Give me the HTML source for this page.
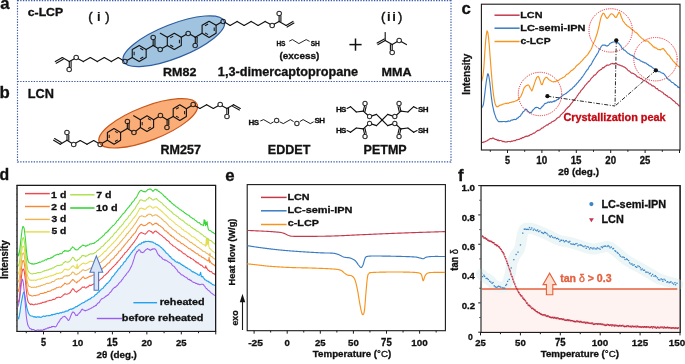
<!DOCTYPE html>
<html><head><meta charset="utf-8"><style>
html,body{margin:0;padding:0;background:#fff;}
svg{display:block;font-family:"Liberation Sans", sans-serif;will-change:transform;}
</style></head><body>
<svg width="685" height="364" viewBox="0 0 685 364">
<rect width="685" height="364" fill="#fff"/>
<line x1="17.5" y1="0.6" x2="451" y2="0.6" stroke="#3b5ca8" stroke-width="1.15" stroke-dasharray="1.35 1.35"/>
<line x1="17.5" y1="81.5" x2="451" y2="81.5" stroke="#3b5ca8" stroke-width="1.15" stroke-dasharray="1.35 1.35"/>
<line x1="17.5" y1="161.9" x2="451" y2="161.9" stroke="#3b5ca8" stroke-width="1.15" stroke-dasharray="1.35 1.35"/>
<line x1="17.5" y1="0" x2="17.5" y2="162.5" stroke="#3b5ca8" stroke-width="1.15" stroke-dasharray="1.35 1.35"/>
<line x1="451" y1="0" x2="451" y2="162.5" stroke="#3b5ca8" stroke-width="1.15" stroke-dasharray="1.35 1.35"/>
<text x="0.30" y="8.60" font-size="16.8" fill="#111" stroke="#111" stroke-width="0.3" font-weight="bold" text-anchor="start" >a</text>
<text x="-0.50" y="97.60" font-size="16.8" fill="#111" stroke="#111" stroke-width="0.3" font-weight="bold" text-anchor="start" >b</text>
<text x="461.40" y="13.50" font-size="16.8" fill="#111" stroke="#111" stroke-width="0.3" font-weight="bold" text-anchor="start" >c</text>
<text x="-0.50" y="180.10" font-size="15.8" fill="#111" stroke="#111" stroke-width="0.3" font-weight="bold" text-anchor="start" >d</text>
<text x="225.20" y="180.80" font-size="16.8" fill="#111" stroke="#111" stroke-width="0.3" font-weight="bold" text-anchor="start" >e</text>
<text x="457.90" y="180.60" font-size="16.8" fill="#111" stroke="#111" stroke-width="0.3" font-weight="bold" text-anchor="start" >f</text>
<ellipse cx="173.8" cy="41.2" rx="54.2" ry="16.9" transform="rotate(-21.6 173.8 41.2)" fill="#a0c3df" stroke="#2d5d9f" stroke-width="1.2"/>
<ellipse cx="148.2" cy="123.3" rx="52.5" ry="17.0" transform="rotate(-21.1 148.2 123.3)" fill="#fbad77" stroke="#c9571d" stroke-width="1.2"/>
<line x1="55.30" y1="61.60" x2="62.30" y2="57.60" stroke="#111" stroke-width="1.12" stroke-linecap="round"/>
<line x1="56.24" y1="63.25" x2="63.24" y2="59.25" stroke="#111" stroke-width="1.12" stroke-linecap="round"/>
<line x1="62.30" y1="57.60" x2="69.30" y2="61.60" stroke="#111" stroke-width="1.12" stroke-linecap="round"/>
<line x1="69.30" y1="61.60" x2="69.30" y2="67.10" stroke="#111" stroke-width="1.12" stroke-linecap="round"/>
<line x1="71.10" y1="61.60" x2="71.10" y2="67.10" stroke="#111" stroke-width="1.12" stroke-linecap="round"/>
<line x1="69.30" y1="61.60" x2="74.04" y2="58.89" stroke="#111" stroke-width="1.12" stroke-linecap="round"/>
<line x1="78.56" y1="58.89" x2="83.30" y2="61.60" stroke="#111" stroke-width="1.12" stroke-linecap="round"/>
<line x1="83.30" y1="61.60" x2="90.30" y2="57.60" stroke="#111" stroke-width="1.12" stroke-linecap="round"/>
<line x1="90.30" y1="57.60" x2="97.30" y2="61.60" stroke="#111" stroke-width="1.12" stroke-linecap="round"/>
<line x1="97.30" y1="61.60" x2="104.30" y2="57.60" stroke="#111" stroke-width="1.12" stroke-linecap="round"/>
<line x1="104.30" y1="57.60" x2="111.30" y2="61.60" stroke="#111" stroke-width="1.12" stroke-linecap="round"/>
<line x1="111.30" y1="61.60" x2="118.30" y2="57.60" stroke="#111" stroke-width="1.12" stroke-linecap="round"/>
<line x1="118.30" y1="57.60" x2="122.77" y2="60.27" stroke="#111" stroke-width="1.12" stroke-linecap="round"/>
<text x="69.30" y="72.44" font-size="7.6" fill="#111" stroke="#111" stroke-width="0.28" text-anchor="middle">O</text>
<text x="76.30" y="60.34" font-size="7.6" fill="#111" stroke="#111" stroke-width="0.28" text-anchor="middle">O</text>
<text x="125.00" y="64.34" font-size="7.6" fill="#111" stroke="#111" stroke-width="0.28" text-anchor="middle">O</text>
<path d="M139.20,45.40 L146.15,49.45 L146.15,57.55 L139.20,61.60 L132.25,57.55 L132.25,49.45 Z" fill="none" stroke="#111" stroke-width="1.12" stroke-linejoin="round"/>
<line x1="140.24" y1="48.19" x2="143.24" y2="49.94" stroke="#111" stroke-width="1.0080000000000002" />
<line x1="143.24" y1="57.06" x2="140.24" y2="58.81" stroke="#111" stroke-width="1.0080000000000002" />
<line x1="134.13" y1="55.26" x2="134.13" y2="51.74" stroke="#111" stroke-width="1.0080000000000002" />
<line x1="127.27" y1="60.33" x2="132.25" y2="57.55" stroke="#111" stroke-width="1.12" stroke-linecap="round"/>
<line x1="146.15" y1="49.45" x2="153.15" y2="45.40" stroke="#111" stroke-width="1.12" stroke-linecap="round"/>
<line x1="153.15" y1="45.40" x2="153.15" y2="39.90" stroke="#111" stroke-width="1.12" stroke-linecap="round"/>
<line x1="154.95" y1="45.40" x2="154.95" y2="39.90" stroke="#111" stroke-width="1.12" stroke-linecap="round"/>
<line x1="153.15" y1="45.40" x2="157.90" y2="48.15" stroke="#111" stroke-width="1.12" stroke-linecap="round"/>
<text x="153.15" y="40.04" font-size="7.6" fill="#111" stroke="#111" stroke-width="0.28" text-anchor="middle">O</text>
<text x="160.15" y="52.19" font-size="7.6" fill="#111" stroke="#111" stroke-width="0.28" text-anchor="middle">O</text>
<path d="M174.30,33.30 L181.30,37.35 L181.30,45.45 L174.30,49.50 L167.30,45.45 L167.30,37.35 Z" fill="none" stroke="#111" stroke-width="1.12" stroke-linejoin="round"/>
<line x1="170.23" y1="37.84" x2="173.26" y2="36.09" stroke="#111" stroke-width="1.0080000000000002" />
<line x1="179.41" y1="39.64" x2="179.41" y2="43.16" stroke="#111" stroke-width="1.0080000000000002" />
<line x1="173.26" y1="46.71" x2="170.23" y2="44.96" stroke="#111" stroke-width="1.0080000000000002" />
<line x1="162.42" y1="48.18" x2="167.30" y2="45.45" stroke="#111" stroke-width="1.12" stroke-linecap="round"/>
<line x1="167.30" y1="37.35" x2="160.30" y2="33.30" stroke="#111" stroke-width="1.12" stroke-linecap="round"/>
<line x1="181.30" y1="37.35" x2="186.05" y2="34.60" stroke="#111" stroke-width="1.12" stroke-linecap="round"/>
<line x1="190.55" y1="34.60" x2="195.30" y2="37.35" stroke="#111" stroke-width="1.12" stroke-linecap="round"/>
<line x1="195.30" y1="37.35" x2="195.30" y2="42.85" stroke="#111" stroke-width="1.12" stroke-linecap="round"/>
<line x1="197.10" y1="37.35" x2="197.10" y2="42.85" stroke="#111" stroke-width="1.12" stroke-linecap="round"/>
<text x="188.30" y="36.04" font-size="7.6" fill="#111" stroke="#111" stroke-width="0.28" text-anchor="middle">O</text>
<text x="195.30" y="48.19" font-size="7.6" fill="#111" stroke="#111" stroke-width="0.28" text-anchor="middle">O</text>
<path d="M209.10,21.20 L216.10,25.25 L216.10,33.35 L209.10,37.40 L202.10,33.35 L202.10,25.25 Z" fill="none" stroke="#111" stroke-width="1.12" stroke-linejoin="round"/>
<line x1="205.03" y1="25.74" x2="208.06" y2="23.99" stroke="#111" stroke-width="1.0080000000000002" />
<line x1="214.21" y1="27.54" x2="214.21" y2="31.06" stroke="#111" stroke-width="1.0080000000000002" />
<line x1="208.06" y1="34.61" x2="205.03" y2="32.86" stroke="#111" stroke-width="1.0080000000000002" />
<line x1="195.30" y1="37.35" x2="202.10" y2="33.35" stroke="#111" stroke-width="1.12" stroke-linecap="round"/>
<line x1="216.10" y1="25.25" x2="220.85" y2="22.50" stroke="#111" stroke-width="1.12" stroke-linecap="round"/>
<text x="223.10" y="23.94" font-size="7.6" fill="#111" stroke="#111" stroke-width="0.28" text-anchor="middle">O</text>
<line x1="225.33" y1="22.54" x2="230.10" y2="25.40" stroke="#111" stroke-width="1.12" stroke-linecap="round"/>
<line x1="230.10" y1="25.40" x2="237.10" y2="21.40" stroke="#111" stroke-width="1.12" stroke-linecap="round"/>
<line x1="237.10" y1="21.40" x2="244.10" y2="25.40" stroke="#111" stroke-width="1.12" stroke-linecap="round"/>
<line x1="244.10" y1="25.40" x2="251.10" y2="21.40" stroke="#111" stroke-width="1.12" stroke-linecap="round"/>
<line x1="251.10" y1="21.40" x2="258.10" y2="25.40" stroke="#111" stroke-width="1.12" stroke-linecap="round"/>
<line x1="258.10" y1="25.40" x2="265.10" y2="21.40" stroke="#111" stroke-width="1.12" stroke-linecap="round"/>
<line x1="265.10" y1="21.40" x2="269.84" y2="24.11" stroke="#111" stroke-width="1.12" stroke-linecap="round"/>
<line x1="274.36" y1="24.11" x2="279.10" y2="21.40" stroke="#111" stroke-width="1.12" stroke-linecap="round"/>
<line x1="279.10" y1="21.40" x2="279.10" y2="15.90" stroke="#111" stroke-width="1.12" stroke-linecap="round"/>
<line x1="280.90" y1="21.40" x2="280.90" y2="15.90" stroke="#111" stroke-width="1.12" stroke-linecap="round"/>
<line x1="279.10" y1="21.40" x2="286.10" y2="25.40" stroke="#111" stroke-width="1.12" stroke-linecap="round"/>
<line x1="286.10" y1="25.40" x2="293.00" y2="21.40" stroke="#111" stroke-width="1.12" stroke-linecap="round"/>
<line x1="287.05" y1="27.04" x2="293.95" y2="23.04" stroke="#111" stroke-width="1.12" stroke-linecap="round"/>
<text x="272.10" y="28.14" font-size="7.6" fill="#111" stroke="#111" stroke-width="0.28" text-anchor="middle">O</text>
<text x="279.10" y="16.04" font-size="7.6" fill="#111" stroke="#111" stroke-width="0.28" text-anchor="middle">O</text>
<text x="276.60" y="46.30" font-size="6.6" fill="#111" stroke="#111" stroke-width="0.3" font-weight="bold" text-anchor="start" letter-spacing="-0.3">HS</text>
<polyline points="289.20,41.20 292.40,39.60 298.90,43.60 306.20,39.60 309.60,41.40" fill="none" stroke="#111" stroke-width="0.9" stroke-linejoin="round" />
<text x="310.80" y="46.30" font-size="6.6" fill="#111" stroke="#111" stroke-width="0.3" font-weight="bold" text-anchor="start" letter-spacing="-0.3">SH</text>
<text x="279.45" y="58.65" font-size="9.24" fill="#111" stroke="#111" stroke-width="0.3" font-weight="bold" textLength="39.98" lengthAdjust="spacingAndGlyphs" >(excess)</text>
<text x="217.89" y="76.45" font-size="12.28" fill="#111" stroke="#111" stroke-width="0.3" font-weight="bold" textLength="140.15" lengthAdjust="spacingAndGlyphs" >1,3-dimercaptopropane</text>
<text x="163.14" y="76.25" font-size="11.14" fill="#111" stroke="#111" stroke-width="0.3" font-weight="bold" textLength="33.24" lengthAdjust="spacingAndGlyphs" >RM82</text>
<line x1="349.40" y1="44.60" x2="361.60" y2="44.60" stroke="#111" stroke-width="1.5" />
<line x1="355.50" y1="38.50" x2="355.50" y2="50.70" stroke="#111" stroke-width="1.5" />
<line x1="378.00" y1="44.60" x2="385.20" y2="40.50" stroke="#111" stroke-width="1.12" stroke-linecap="round"/>
<line x1="377.11" y1="43.04" x2="384.31" y2="38.94" stroke="#111" stroke-width="1.12" stroke-linecap="round"/>
<line x1="385.20" y1="40.50" x2="385.20" y2="32.60" stroke="#111" stroke-width="1.12" stroke-linecap="round"/>
<line x1="385.20" y1="40.50" x2="392.20" y2="44.60" stroke="#111" stroke-width="1.12" stroke-linecap="round"/>
<line x1="392.20" y1="44.60" x2="392.20" y2="50.00" stroke="#111" stroke-width="1.12" stroke-linecap="round"/>
<line x1="390.40" y1="44.60" x2="390.40" y2="50.00" stroke="#111" stroke-width="1.12" stroke-linecap="round"/>
<line x1="392.20" y1="44.60" x2="396.96" y2="41.81" stroke="#111" stroke-width="1.12" stroke-linecap="round"/>
<line x1="401.46" y1="41.79" x2="406.40" y2="44.60" stroke="#111" stroke-width="1.12" stroke-linecap="round"/>
<text x="392.20" y="55.34" font-size="7.6" fill="#111" stroke="#111" stroke-width="0.28" text-anchor="middle">O</text>
<text x="399.20" y="43.24" font-size="7.6" fill="#111" stroke="#111" stroke-width="0.28" text-anchor="middle">O</text>
<text x="381.43" y="76.25" font-size="11.74" fill="#111" stroke="#111" stroke-width="0.3" font-weight="bold" textLength="30.07" lengthAdjust="spacingAndGlyphs" >MMA</text>
<text x="27.76" y="16.35" font-size="10.57" fill="#111" stroke="#111" stroke-width="0.3" font-weight="bold" textLength="35.41" lengthAdjust="spacingAndGlyphs" >c-LCP</text>
<text x="90.40" y="21.30" font-size="13.0" fill="#111" stroke="#111" stroke-width="0.45" font-weight="normal" text-anchor="middle" >(</text>
<text x="98.70" y="21.30" font-size="13.0" fill="#111" stroke="#111" stroke-width="0.1" font-weight="bold" text-anchor="middle" >i</text>
<text x="107.30" y="21.30" font-size="13.0" fill="#111" stroke="#111" stroke-width="0.45" font-weight="normal" text-anchor="middle" >)</text>
<text x="383.10" y="21.40" font-size="13.0" fill="#111" stroke="#111" stroke-width="0.45" font-weight="normal" text-anchor="middle" >(</text>
<text x="388.90" y="21.40" font-size="13.0" fill="#111" stroke="#111" stroke-width="0.1" font-weight="bold" text-anchor="middle" >i</text>
<text x="394.00" y="21.40" font-size="13.0" fill="#111" stroke="#111" stroke-width="0.1" font-weight="bold" text-anchor="middle" >i</text>
<text x="400.10" y="21.40" font-size="13.0" fill="#111" stroke="#111" stroke-width="0.45" font-weight="normal" text-anchor="middle" >)</text>
<text x="27.82" y="97.85" font-size="12.00" fill="#111" stroke="#111" stroke-width="0.3" font-weight="bold" textLength="26.16" lengthAdjust="spacingAndGlyphs" >LCN</text>
<line x1="53.60" y1="140.20" x2="60.30" y2="144.20" stroke="#111" stroke-width="1.12" stroke-linecap="round"/>
<line x1="54.57" y1="138.57" x2="61.27" y2="142.57" stroke="#111" stroke-width="1.12" stroke-linecap="round"/>
<line x1="60.30" y1="144.20" x2="67.00" y2="140.30" stroke="#111" stroke-width="1.12" stroke-linecap="round"/>
<line x1="67.00" y1="140.30" x2="67.00" y2="135.00" stroke="#111" stroke-width="1.12" stroke-linecap="round"/>
<line x1="68.80" y1="140.30" x2="68.80" y2="135.00" stroke="#111" stroke-width="1.12" stroke-linecap="round"/>
<line x1="67.00" y1="140.30" x2="71.38" y2="142.95" stroke="#111" stroke-width="1.12" stroke-linecap="round"/>
<text x="67.00" y="135.14" font-size="7.6" fill="#111" stroke="#111" stroke-width="0.28" text-anchor="middle">O</text>
<text x="73.60" y="147.04" font-size="7.6" fill="#111" stroke="#111" stroke-width="0.28" text-anchor="middle">O</text>
<line x1="75.85" y1="143.00" x2="80.20" y2="140.50" stroke="#111" stroke-width="1.12" stroke-linecap="round"/>
<line x1="80.20" y1="140.50" x2="87.00" y2="144.30" stroke="#111" stroke-width="1.12" stroke-linecap="round"/>
<line x1="87.00" y1="144.30" x2="93.70" y2="140.50" stroke="#111" stroke-width="1.12" stroke-linecap="round"/>
<line x1="93.70" y1="140.50" x2="98.05" y2="143.00" stroke="#111" stroke-width="1.12" stroke-linecap="round"/>
<text x="100.30" y="147.04" font-size="7.6" fill="#111" stroke="#111" stroke-width="0.28" text-anchor="middle">O</text>
<path d="M114.00,128.60 L120.60,132.50 L120.60,140.30 L114.00,144.20 L107.40,140.30 L107.40,132.50 Z" fill="none" stroke="#111" stroke-width="1.12" stroke-linejoin="round"/>
<line x1="115.03" y1="131.32" x2="117.78" y2="132.94" stroke="#111" stroke-width="1.0080000000000002" />
<line x1="117.78" y1="139.86" x2="115.03" y2="141.48" stroke="#111" stroke-width="1.0080000000000002" />
<line x1="109.18" y1="138.05" x2="109.18" y2="134.75" stroke="#111" stroke-width="1.0080000000000002" />
<line x1="102.57" y1="143.02" x2="107.40" y2="140.30" stroke="#111" stroke-width="1.12" stroke-linecap="round"/>
<line x1="120.60" y1="132.50" x2="127.34" y2="128.50" stroke="#111" stroke-width="1.12" stroke-linecap="round"/>
<line x1="127.34" y1="128.50" x2="127.34" y2="123.40" stroke="#111" stroke-width="1.12" stroke-linecap="round"/>
<line x1="129.04" y1="128.50" x2="129.04" y2="123.40" stroke="#111" stroke-width="1.12" stroke-linecap="round"/>
<line x1="127.34" y1="128.50" x2="131.84" y2="131.17" stroke="#111" stroke-width="1.12" stroke-linecap="round"/>
<text x="127.34" y="123.54" font-size="7.6" fill="#111" stroke="#111" stroke-width="0.28" text-anchor="middle">O</text>
<text x="134.08" y="135.24" font-size="7.6" fill="#111" stroke="#111" stroke-width="0.28" text-anchor="middle">O</text>
<path d="M147.00,115.80 L153.60,119.70 L153.60,127.50 L147.00,131.40 L140.40,127.50 L140.40,119.70 Z" fill="none" stroke="#111" stroke-width="1.12" stroke-linejoin="round"/>
<line x1="148.03" y1="118.52" x2="150.78" y2="120.14" stroke="#111" stroke-width="1.0080000000000002" />
<line x1="150.78" y1="127.06" x2="148.03" y2="128.68" stroke="#111" stroke-width="1.0080000000000002" />
<line x1="142.18" y1="125.25" x2="142.18" y2="121.95" stroke="#111" stroke-width="1.0080000000000002" />
<line x1="136.12" y1="130.89" x2="140.40" y2="127.50" stroke="#111" stroke-width="1.12" stroke-linecap="round"/>
<line x1="140.40" y1="119.70" x2="133.66" y2="115.70" stroke="#111" stroke-width="1.12" stroke-linecap="round"/>
<line x1="153.60" y1="119.70" x2="158.10" y2="117.03" stroke="#111" stroke-width="1.12" stroke-linecap="round"/>
<line x1="162.58" y1="117.03" x2="167.08" y2="119.70" stroke="#111" stroke-width="1.12" stroke-linecap="round"/>
<line x1="167.08" y1="119.70" x2="167.08" y2="124.80" stroke="#111" stroke-width="1.12" stroke-linecap="round"/>
<line x1="168.78" y1="119.70" x2="168.78" y2="124.80" stroke="#111" stroke-width="1.12" stroke-linecap="round"/>
<text x="160.34" y="118.44" font-size="7.6" fill="#111" stroke="#111" stroke-width="0.28" text-anchor="middle">O</text>
<text x="167.08" y="130.14" font-size="7.6" fill="#111" stroke="#111" stroke-width="0.28" text-anchor="middle">O</text>
<path d="M179.80,104.80 L186.40,108.70 L186.40,116.50 L179.80,120.40 L173.20,116.50 L173.20,108.70 Z" fill="none" stroke="#111" stroke-width="1.12" stroke-linejoin="round"/>
<line x1="176.02" y1="109.14" x2="178.77" y2="107.52" stroke="#111" stroke-width="1.0080000000000002" />
<line x1="184.62" y1="110.95" x2="184.62" y2="114.25" stroke="#111" stroke-width="1.0080000000000002" />
<line x1="178.77" y1="117.68" x2="176.02" y2="116.06" stroke="#111" stroke-width="1.0080000000000002" />
<line x1="167.08" y1="119.70" x2="173.20" y2="116.50" stroke="#111" stroke-width="1.12" stroke-linecap="round"/>
<line x1="186.40" y1="108.70" x2="190.90" y2="106.03" stroke="#111" stroke-width="1.12" stroke-linecap="round"/>
<text x="193.14" y="107.44" font-size="7.6" fill="#111" stroke="#111" stroke-width="0.28" text-anchor="middle">O</text>
<line x1="195.42" y1="105.95" x2="199.88" y2="108.40" stroke="#111" stroke-width="1.12" stroke-linecap="round"/>
<line x1="199.88" y1="108.40" x2="206.62" y2="104.70" stroke="#111" stroke-width="1.12" stroke-linecap="round"/>
<line x1="206.62" y1="104.70" x2="213.36" y2="108.40" stroke="#111" stroke-width="1.12" stroke-linecap="round"/>
<line x1="213.36" y1="108.40" x2="217.82" y2="105.95" stroke="#111" stroke-width="1.12" stroke-linecap="round"/>
<text x="220.10" y="107.44" font-size="7.6" fill="#111" stroke="#111" stroke-width="0.28" text-anchor="middle">O</text>
<line x1="222.38" y1="105.95" x2="226.84" y2="108.40" stroke="#111" stroke-width="1.12" stroke-linecap="round"/>
<line x1="226.84" y1="108.40" x2="226.84" y2="113.50" stroke="#111" stroke-width="1.12" stroke-linecap="round"/>
<line x1="228.54" y1="108.40" x2="228.54" y2="113.50" stroke="#111" stroke-width="1.12" stroke-linecap="round"/>
<text x="226.84" y="118.84" font-size="7.6" fill="#111" stroke="#111" stroke-width="0.28" text-anchor="middle">O</text>
<line x1="226.84" y1="108.40" x2="233.58" y2="104.70" stroke="#111" stroke-width="1.12" stroke-linecap="round"/>
<line x1="233.58" y1="104.70" x2="240.32" y2="108.40" stroke="#111" stroke-width="1.12" stroke-linecap="round"/>
<line x1="232.67" y1="106.37" x2="239.41" y2="110.07" stroke="#111" stroke-width="1.12" stroke-linecap="round"/>
<text x="160.54" y="154.35" font-size="12.29" fill="#111" stroke="#111" stroke-width="0.3" font-weight="bold" textLength="40.30" lengthAdjust="spacingAndGlyphs" >RM257</text>
<text x="248.60" y="124.90" font-size="8.0" fill="#111" stroke="#111" stroke-width="0.3" font-weight="bold" text-anchor="start" letter-spacing="-0.6">HS</text>
<polyline points="260.30,121.00 263.60,119.60 270.60,123.60 273.60,121.80" fill="none" stroke="#111" stroke-width="0.95" stroke-linejoin="round" />
<text x="276.60" y="122.66" font-size="7.4" fill="#111" stroke="#111" stroke-width="0.28" text-anchor="middle">O</text>
<polyline points="279.60,121.80 283.30,123.60 290.30,119.60 293.60,121.60" fill="none" stroke="#111" stroke-width="0.95" stroke-linejoin="round" />
<text x="296.80" y="126.06" font-size="7.4" fill="#111" stroke="#111" stroke-width="0.28" text-anchor="middle">O</text>
<polyline points="299.80,121.60 303.10,119.60 310.30,123.60 313.60,121.80" fill="none" stroke="#111" stroke-width="0.95" stroke-linejoin="round" />
<text x="314.60" y="122.80" font-size="8.0" fill="#111" stroke="#111" stroke-width="0.3" font-weight="bold" text-anchor="start" letter-spacing="-0.6">SH</text>
<text x="267.83" y="153.55" font-size="12.46" fill="#111" stroke="#111" stroke-width="0.3" font-weight="bold" textLength="42.53" lengthAdjust="spacingAndGlyphs" >EDDET</text>
<line x1="382.10" y1="120.00" x2="376.50" y2="114.40" stroke="#111" stroke-width="1.12" stroke-linecap="round"/>
<line x1="376.50" y1="114.40" x2="371.97" y2="115.89" stroke="#111" stroke-width="1.12" stroke-linecap="round"/>
<text x="369.50" y="119.29" font-size="7.2" fill="#111" stroke="#111" stroke-width="0.28" text-anchor="middle">O</text>
<line x1="367.57" y1="114.96" x2="363.30" y2="111.10" stroke="#111" stroke-width="1.12" stroke-linecap="round"/>
<line x1="363.30" y1="111.10" x2="364.49" y2="106.13" stroke="#111" stroke-width="1.12" stroke-linecap="round"/>
<line x1="364.95" y1="111.50" x2="366.15" y2="106.52" stroke="#111" stroke-width="1.12" stroke-linecap="round"/>
<text x="365.10" y="106.19" font-size="7.2" fill="#111" stroke="#111" stroke-width="0.28" text-anchor="middle">O</text>
<line x1="363.30" y1="111.10" x2="356.30" y2="112.00" stroke="#111" stroke-width="1.12" stroke-linecap="round"/>
<line x1="356.30" y1="112.00" x2="350.50" y2="106.70" stroke="#111" stroke-width="1.12" stroke-linecap="round"/>
<line x1="350.50" y1="106.70" x2="347.10" y2="108.40" stroke="#111" stroke-width="1.12" stroke-linecap="round"/>
<text x="335.90" y="111.60" font-size="8.0" fill="#111" stroke="#111" stroke-width="0.3" font-weight="bold" text-anchor="start" letter-spacing="-0.6">HS</text>
<line x1="382.10" y1="120.00" x2="376.50" y2="125.60" stroke="#111" stroke-width="1.12" stroke-linecap="round"/>
<line x1="376.50" y1="125.60" x2="371.97" y2="124.11" stroke="#111" stroke-width="1.12" stroke-linecap="round"/>
<text x="369.50" y="125.89" font-size="7.2" fill="#111" stroke="#111" stroke-width="0.28" text-anchor="middle">O</text>
<line x1="367.57" y1="125.04" x2="363.30" y2="128.90" stroke="#111" stroke-width="1.12" stroke-linecap="round"/>
<line x1="363.30" y1="128.90" x2="364.49" y2="133.87" stroke="#111" stroke-width="1.12" stroke-linecap="round"/>
<line x1="364.95" y1="128.50" x2="366.15" y2="133.48" stroke="#111" stroke-width="1.12" stroke-linecap="round"/>
<text x="365.10" y="138.99" font-size="7.2" fill="#111" stroke="#111" stroke-width="0.28" text-anchor="middle">O</text>
<line x1="363.30" y1="128.90" x2="356.30" y2="128.00" stroke="#111" stroke-width="1.12" stroke-linecap="round"/>
<line x1="356.30" y1="128.00" x2="350.50" y2="132.30" stroke="#111" stroke-width="1.12" stroke-linecap="round"/>
<line x1="350.50" y1="132.30" x2="347.10" y2="130.60" stroke="#111" stroke-width="1.12" stroke-linecap="round"/>
<text x="335.90" y="133.20" font-size="8.0" fill="#111" stroke="#111" stroke-width="0.3" font-weight="bold" text-anchor="start" letter-spacing="-0.6">HS</text>
<line x1="382.10" y1="120.00" x2="387.70" y2="114.40" stroke="#111" stroke-width="1.12" stroke-linecap="round"/>
<line x1="387.70" y1="114.40" x2="392.23" y2="115.89" stroke="#111" stroke-width="1.12" stroke-linecap="round"/>
<text x="394.70" y="119.29" font-size="7.2" fill="#111" stroke="#111" stroke-width="0.28" text-anchor="middle">O</text>
<line x1="396.63" y1="114.96" x2="400.90" y2="111.10" stroke="#111" stroke-width="1.12" stroke-linecap="round"/>
<line x1="400.90" y1="111.10" x2="399.71" y2="106.13" stroke="#111" stroke-width="1.12" stroke-linecap="round"/>
<line x1="399.25" y1="111.50" x2="398.05" y2="106.52" stroke="#111" stroke-width="1.12" stroke-linecap="round"/>
<text x="399.10" y="106.19" font-size="7.2" fill="#111" stroke="#111" stroke-width="0.28" text-anchor="middle">O</text>
<line x1="400.90" y1="111.10" x2="407.90" y2="112.00" stroke="#111" stroke-width="1.12" stroke-linecap="round"/>
<line x1="407.90" y1="112.00" x2="413.70" y2="106.70" stroke="#111" stroke-width="1.12" stroke-linecap="round"/>
<line x1="413.70" y1="106.70" x2="417.10" y2="108.40" stroke="#111" stroke-width="1.12" stroke-linecap="round"/>
<text x="418.10" y="111.60" font-size="8.0" fill="#111" stroke="#111" stroke-width="0.3" font-weight="bold" text-anchor="start" letter-spacing="-0.6">SH</text>
<line x1="382.10" y1="120.00" x2="387.70" y2="125.60" stroke="#111" stroke-width="1.12" stroke-linecap="round"/>
<line x1="387.70" y1="125.60" x2="392.23" y2="124.11" stroke="#111" stroke-width="1.12" stroke-linecap="round"/>
<text x="394.70" y="125.89" font-size="7.2" fill="#111" stroke="#111" stroke-width="0.28" text-anchor="middle">O</text>
<line x1="396.63" y1="125.04" x2="400.90" y2="128.90" stroke="#111" stroke-width="1.12" stroke-linecap="round"/>
<line x1="400.90" y1="128.90" x2="399.71" y2="133.87" stroke="#111" stroke-width="1.12" stroke-linecap="round"/>
<line x1="399.25" y1="128.50" x2="398.05" y2="133.48" stroke="#111" stroke-width="1.12" stroke-linecap="round"/>
<text x="399.10" y="138.99" font-size="7.2" fill="#111" stroke="#111" stroke-width="0.28" text-anchor="middle">O</text>
<line x1="400.90" y1="128.90" x2="407.90" y2="128.00" stroke="#111" stroke-width="1.12" stroke-linecap="round"/>
<line x1="407.90" y1="128.00" x2="413.70" y2="132.30" stroke="#111" stroke-width="1.12" stroke-linecap="round"/>
<line x1="413.70" y1="132.30" x2="417.10" y2="130.60" stroke="#111" stroke-width="1.12" stroke-linecap="round"/>
<text x="418.10" y="133.20" font-size="8.0" fill="#111" stroke="#111" stroke-width="0.3" font-weight="bold" text-anchor="start" letter-spacing="-0.6">SH</text>
<text x="363.64" y="154.05" font-size="12.03" fill="#111" stroke="#111" stroke-width="0.3" font-weight="bold" textLength="42.99" lengthAdjust="spacingAndGlyphs" >PETMP</text>
<clipPath id="clipc"><rect x="481.4" y="4.2" width="198.60000000000002" height="145.8"/></clipPath>
<g clip-path="url(#clipc)">
<polyline points="481.40,142.62 482.20,142.26 483.00,142.57 483.80,141.79 484.60,142.02 485.40,141.59 486.20,140.97 487.00,141.00 487.80,140.04 488.60,139.93 489.40,139.08 490.20,138.66 491.00,138.64 491.80,138.80 492.60,138.02 493.40,138.18 494.20,138.79 495.00,139.39 495.80,139.35 496.60,139.52 497.40,140.44 498.20,139.81 499.00,140.86 499.80,140.49 500.60,140.55 501.40,140.73 502.20,141.12 503.00,141.81 503.80,141.34 504.60,141.88 505.40,142.05 506.20,141.85 507.00,142.05 507.80,141.53 508.60,141.46 509.40,141.49 510.20,141.83 511.00,141.40 511.80,141.09 512.60,141.15 513.40,140.80 514.20,140.42 515.00,140.69 515.80,140.37 516.60,139.67 517.40,139.74 518.20,139.42 519.00,139.50 519.80,139.07 520.60,138.34 521.40,138.74 522.20,137.58 523.00,137.59 523.80,137.63 524.60,136.73 525.40,136.78 526.20,136.04 527.00,136.37 527.80,136.16 528.60,135.65 529.40,135.61 530.20,134.69 531.00,134.70 531.80,134.19 532.60,133.75 533.40,133.19 534.20,133.11 535.00,132.75 535.80,131.81 536.60,131.52 537.40,130.44 538.20,130.61 539.00,130.09 539.80,129.97 540.60,129.34 541.40,128.35 542.20,128.00 543.00,127.82 543.80,126.72 544.60,126.69 545.40,125.92 546.20,125.39 547.00,124.84 547.80,125.05 548.60,123.89 549.40,123.48 550.20,123.10 551.00,123.05 551.80,121.73 552.60,121.57 553.40,121.13 554.20,120.91 555.00,120.28 555.80,119.75 556.60,118.57 557.40,118.09 558.20,117.40 559.00,117.26 559.80,116.63 560.60,115.09 561.40,114.35 562.20,113.61 563.00,112.78 563.80,112.17 564.60,111.39 565.40,110.16 566.20,108.99 567.00,108.47 567.80,107.47 568.60,106.72 569.40,106.16 570.20,104.95 571.00,103.82 571.80,102.94 572.60,102.01 573.40,100.38 574.20,100.20 575.00,99.06 575.80,98.13 576.60,97.02 577.40,95.59 578.20,94.57 579.00,93.26 579.80,92.78 580.60,91.21 581.40,90.22 582.20,89.36 583.00,88.31 583.80,87.49 584.60,86.20 585.40,85.16 586.20,84.33 587.00,83.30 587.80,82.60 588.60,81.31 589.40,81.22 590.20,80.04 591.00,78.67 591.80,77.88 592.60,77.09 593.40,76.25 594.20,75.17 595.00,75.10 595.80,74.46 596.60,73.19 597.40,72.48 598.20,71.39 599.00,70.73 599.80,70.31 600.60,69.59 601.40,69.53 602.20,68.26 603.00,67.53 603.80,67.89 604.60,66.93 605.40,66.03 606.20,65.94 607.00,64.99 607.80,65.10 608.60,65.21 609.40,64.81 610.20,64.40 611.00,63.77 611.80,63.71 612.60,63.38 613.40,63.89 614.20,63.61 615.00,63.88 615.80,63.52 616.60,63.56 617.40,64.34 618.20,64.75 619.00,64.88 619.80,65.14 620.60,65.52 621.40,65.86 622.20,65.81 623.00,66.58 623.80,66.92 624.60,67.12 625.40,67.66 626.20,68.48 627.00,69.03 627.80,70.04 628.60,70.89 629.40,70.96 630.20,72.03 631.00,72.65 631.80,73.19 632.60,73.16 633.40,73.56 634.20,74.10 635.00,74.59 635.80,75.10 636.60,76.01 637.40,76.76 638.20,77.17 639.00,77.27 639.80,77.91 640.60,78.51 641.40,78.25 642.20,79.29 643.00,80.00 643.80,80.33 644.60,80.78 645.40,80.99 646.20,81.18 647.00,82.29 647.80,82.35 648.60,83.33 649.40,84.03 650.20,83.98 651.00,84.52 651.80,85.60 652.60,85.92 653.40,85.91 654.20,86.41 655.00,86.99 655.80,88.29 656.60,88.75 657.40,88.64 658.20,89.87 659.00,90.58 659.80,90.82 660.60,91.07 661.40,91.82 662.20,91.96 663.00,92.40 663.80,93.92 664.60,94.16 665.40,94.61 666.20,95.59 667.00,95.67 667.80,96.70 668.60,97.26 669.40,97.25 670.20,97.91 671.00,98.58 671.80,99.17 672.60,100.17 673.40,100.50 674.20,101.33 675.00,101.71 675.80,103.16 676.60,103.28 677.40,104.06 678.20,104.86 679.00,105.86 679.80,106.05" fill="none" stroke="#c23a4c" stroke-width="1.15" stroke-linejoin="round" />
<polyline points="481.40,108.28 482.10,107.20 482.80,106.22 483.50,104.02 484.20,98.77 484.90,92.88 485.60,86.98 486.30,81.49 487.00,77.32 487.70,73.71 488.40,74.26 489.10,77.72 489.80,82.28 490.50,88.79 491.20,95.65 491.90,100.86 492.60,105.59 493.30,108.72 494.00,112.05 494.70,114.14 495.40,116.17 496.10,118.25 496.80,119.30 497.50,120.32 498.20,121.17 498.90,121.70 499.60,121.46 500.30,121.68 501.00,121.58 501.70,121.55 502.40,121.68 503.10,121.46 503.80,121.53 504.50,121.46 505.20,121.83 505.90,121.56 506.60,121.65 507.30,121.62 508.00,120.92 508.70,121.08 509.40,121.31 510.10,121.09 510.80,120.31 511.50,120.14 512.20,120.26 512.90,119.74 513.60,119.69 514.30,119.30 515.00,119.58 515.70,119.39 516.40,119.16 517.10,118.09 517.80,118.12 518.50,117.53 519.20,116.45 519.90,116.44 520.60,115.74 521.30,114.12 522.00,113.74 522.70,112.27 523.40,111.53 524.10,111.15 524.80,110.26 525.50,109.13 526.20,109.28 526.90,109.93 527.60,110.78 528.30,111.56 529.00,112.16 529.70,112.89 530.40,112.35 531.10,112.58 531.80,111.80 532.50,110.48 533.20,109.79 533.90,109.21 534.60,108.46 535.30,107.47 536.00,107.81 536.70,107.31 537.40,107.54 538.10,107.51 538.80,108.48 539.50,108.48 540.20,109.00 540.90,108.08 541.60,107.21 542.30,106.54 543.00,106.03 543.70,105.09 544.40,103.93 545.10,103.31 545.80,103.59 546.50,102.95 547.20,102.82 547.90,102.10 548.60,101.97 549.30,102.45 550.00,102.12 550.70,101.68 551.40,102.30 552.10,101.89 552.80,101.90 553.50,101.10 554.20,101.59 554.90,100.63 555.60,101.03 556.30,100.29 557.00,99.76 557.70,99.49 558.40,99.33 559.10,98.22 559.80,97.57 560.50,97.40 561.20,96.61 561.90,95.96 562.60,95.49 563.30,94.88 564.00,94.53 564.70,94.15 565.40,93.67 566.10,93.61 566.80,92.71 567.50,92.41 568.20,91.61 568.90,91.23 569.60,90.38 570.30,90.00 571.00,89.16 571.70,89.15 572.40,88.31 573.10,87.28 573.80,86.82 574.50,86.49 575.20,84.99 575.90,84.86 576.60,83.72 577.30,82.98 578.00,82.46 578.70,81.24 579.40,80.49 580.10,79.80 580.80,79.19 581.50,77.72 582.20,77.25 582.90,76.21 583.60,75.21 584.30,74.05 585.00,73.04 585.70,71.79 586.40,70.87 587.10,69.81 587.80,69.40 588.50,67.93 589.20,66.80 589.90,65.65 590.60,65.24 591.30,64.16 592.00,62.85 592.70,61.36 593.40,60.17 594.10,59.04 594.80,58.02 595.50,56.56 596.20,55.62 596.90,54.22 597.60,53.54 598.30,52.15 599.00,50.35 599.70,48.71 600.40,48.16 601.10,46.62 601.80,45.91 602.50,45.07 603.20,45.08 603.90,45.00 604.60,45.06 605.30,45.13 606.00,45.84 606.70,45.72 607.40,45.95 608.10,45.41 608.80,45.04 609.50,43.99 610.20,43.30 610.90,43.04 611.60,42.48 612.30,42.36 613.00,42.00 613.70,42.04 614.40,41.90 615.10,41.95 615.80,42.16 616.50,41.89 617.20,42.12 617.90,43.12 618.60,42.93 619.30,44.22 620.00,45.06 620.70,45.49 621.40,47.16 622.10,48.12 622.80,48.70 623.50,49.52 624.20,50.22 624.90,50.21 625.60,51.12 626.30,51.65 627.00,52.47 627.70,52.96 628.40,53.48 629.10,53.76 629.80,54.52 630.50,54.82 631.20,55.30 631.90,55.35 632.60,55.64 633.30,56.19 634.00,56.84 634.70,57.04 635.40,58.12 636.10,58.28 636.80,58.74 637.50,59.13 638.20,59.57 638.90,59.78 639.60,59.73 640.30,60.83 641.00,61.16 641.70,61.31 642.40,61.69 643.10,62.15 643.80,61.97 644.50,62.92 645.20,62.85 645.90,63.06 646.60,63.63 647.30,64.45 648.00,64.39 648.70,65.29 649.40,65.93 650.10,65.93 650.80,66.27 651.50,66.79 652.20,67.42 652.90,67.96 653.60,68.31 654.30,68.87 655.00,68.99 655.70,69.71 656.40,70.38 657.10,71.27 657.80,71.21 658.50,71.71 659.20,71.44 659.90,71.71 660.60,72.13 661.30,72.78 662.00,73.05 662.70,73.31 663.40,73.34 664.10,74.12 664.80,74.90 665.50,75.91 666.20,76.63 666.90,78.24 667.60,78.33 668.30,79.62 669.00,80.12 669.70,79.83 670.40,80.79 671.10,81.68 671.80,82.37 672.50,82.47 673.20,82.86 673.90,83.37 674.60,84.58 675.30,84.48 676.00,85.36 676.70,85.51 677.40,86.40 678.10,87.33 678.80,87.14 679.50,88.30" fill="none" stroke="#3a7cc4" stroke-width="1.15" stroke-linejoin="round" />
<polyline points="481.40,82.01 482.20,79.46 483.00,75.76 483.80,68.36 484.60,55.87 485.40,43.86 486.20,35.47 487.00,30.87 487.80,32.38 488.60,38.17 489.40,46.81 490.20,57.90 491.00,68.10 491.80,77.93 492.60,87.30 493.40,93.81 494.20,99.47 495.00,103.24 495.80,105.38 496.60,106.68 497.40,106.66 498.20,106.57 499.00,105.75 499.80,105.37 500.60,104.98 501.40,105.05 502.20,104.51 503.00,104.14 503.80,104.00 504.60,103.71 505.40,103.39 506.20,103.26 507.00,103.61 507.80,103.06 508.60,103.34 509.40,102.68 510.20,102.48 511.00,102.42 511.80,101.95 512.60,101.82 513.40,101.94 514.20,101.58 515.00,101.22 515.80,100.78 516.60,100.66 517.40,100.25 518.20,99.37 519.00,98.78 519.80,97.47 520.60,96.84 521.40,95.14 522.20,93.35 523.00,91.08 523.80,88.78 524.60,87.10 525.40,86.75 526.20,85.60 527.00,85.38 527.80,85.00 528.60,85.02 529.40,86.25 530.20,88.24 531.00,89.43 531.80,90.91 532.60,89.27 533.40,86.80 534.20,84.39 535.00,81.93 535.80,79.66 536.60,77.69 537.40,76.80 538.20,76.40 539.00,77.46 539.80,79.85 540.60,82.09 541.40,84.49 542.20,84.70 543.00,82.62 543.80,80.13 544.60,78.90 545.40,77.71 546.20,77.34 547.00,77.56 547.80,78.49 548.60,79.47 549.40,79.95 550.20,80.30 551.00,80.87 551.80,81.45 552.60,81.72 553.40,81.88 554.20,81.67 555.00,81.57 555.80,81.70 556.60,80.76 557.40,80.66 558.20,80.37 559.00,80.14 559.80,79.27 560.60,78.86 561.40,78.37 562.20,77.97 563.00,77.47 563.80,77.26 564.60,76.60 565.40,76.01 566.20,74.80 567.00,74.17 567.80,74.00 568.60,73.47 569.40,72.51 570.20,71.91 571.00,70.81 571.80,70.38 572.60,70.04 573.40,69.24 574.20,68.53 575.00,67.86 575.80,66.59 576.60,65.72 577.40,64.98 578.20,64.45 579.00,63.77 579.80,63.15 580.60,62.19 581.40,61.32 582.20,60.58 583.00,59.54 583.80,58.76 584.60,57.55 585.40,57.20 586.20,55.93 587.00,55.49 587.80,54.34 588.60,53.08 589.40,51.84 590.20,50.70 591.00,49.50 591.80,47.70 592.60,45.22 593.40,43.26 594.20,41.67 595.00,39.75 595.80,37.49 596.60,35.02 597.40,32.71 598.20,29.42 599.00,26.25 599.80,22.31 600.60,18.93 601.40,16.33 602.20,14.78 603.00,13.25 603.80,13.36 604.60,14.45 605.40,16.18 606.20,17.45 607.00,18.47 607.80,17.96 608.60,16.92 609.40,15.74 610.20,14.72 611.00,13.89 611.80,13.75 612.60,14.19 613.40,14.93 614.20,15.90 615.00,17.07 615.80,17.59 616.60,17.01 617.40,15.02 618.20,13.83 619.00,12.27 619.80,12.90 620.60,14.81 621.40,17.30 622.20,18.88 623.00,21.02 623.80,21.95 624.60,22.95 625.40,24.17 626.20,24.60 627.00,25.77 627.80,26.14 628.60,26.60 629.40,27.23 630.20,27.92 631.00,28.65 631.80,29.45 632.60,29.54 633.40,30.39 634.20,30.95 635.00,32.19 635.80,32.31 636.60,32.96 637.40,33.67 638.20,34.62 639.00,35.69 639.80,36.39 640.60,37.01 641.40,37.94 642.20,38.66 643.00,39.01 643.80,39.64 644.60,40.83 645.40,41.17 646.20,40.75 647.00,41.00 647.80,41.11 648.60,41.89 649.40,42.78 650.20,43.45 651.00,44.08 651.80,45.01 652.60,45.77 653.40,46.86 654.20,46.87 655.00,47.93 655.80,47.77 656.60,48.21 657.40,48.95 658.20,49.46 659.00,49.67 659.80,49.67 660.60,49.81 661.40,49.17 662.20,49.00 663.00,48.39 663.80,49.06 664.60,50.40 665.40,50.90 666.20,52.18 667.00,53.45 667.80,54.43 668.60,54.93 669.40,55.93 670.20,56.94 671.00,58.53 671.80,59.06 672.60,60.39 673.40,61.46 674.20,62.00 675.00,62.84 675.80,64.14 676.60,64.68 677.40,65.18 678.20,66.23 679.00,66.67 679.80,67.36" fill="none" stroke="#f7941e" stroke-width="1.15" stroke-linejoin="round" />
</g>
<rect x="481.4" y="4.2" width="198.60000000000002" height="145.8" fill="none" stroke="#1a1a1a" stroke-width="1.1"/>
<line x1="507.50" y1="150.00" x2="507.50" y2="153.00" stroke="#1a1a1a" stroke-width="1.0" />
<line x1="541.90" y1="150.00" x2="541.90" y2="153.00" stroke="#1a1a1a" stroke-width="1.0" />
<line x1="576.30" y1="150.00" x2="576.30" y2="153.00" stroke="#1a1a1a" stroke-width="1.0" />
<line x1="610.70" y1="150.00" x2="610.70" y2="153.00" stroke="#1a1a1a" stroke-width="1.0" />
<line x1="645.10" y1="150.00" x2="645.10" y2="153.00" stroke="#1a1a1a" stroke-width="1.0" />
<line x1="679.50" y1="150.00" x2="679.50" y2="153.00" stroke="#1a1a1a" stroke-width="1.0" />
<line x1="490.30" y1="150.00" x2="490.30" y2="151.80" stroke="#1a1a1a" stroke-width="1.0" />
<line x1="524.70" y1="150.00" x2="524.70" y2="151.80" stroke="#1a1a1a" stroke-width="1.0" />
<line x1="559.10" y1="150.00" x2="559.10" y2="151.80" stroke="#1a1a1a" stroke-width="1.0" />
<line x1="593.50" y1="150.00" x2="593.50" y2="151.80" stroke="#1a1a1a" stroke-width="1.0" />
<line x1="627.90" y1="150.00" x2="627.90" y2="151.80" stroke="#1a1a1a" stroke-width="1.0" />
<line x1="662.30" y1="150.00" x2="662.30" y2="151.80" stroke="#1a1a1a" stroke-width="1.0" />
<text x="504.95" y="163.55" font-size="10.58" fill="#111" stroke="#111" stroke-width="0.3" font-weight="bold" textLength="5.06" lengthAdjust="spacingAndGlyphs" >5</text>
<text x="536.31" y="163.55" font-size="10.43" fill="#111" stroke="#111" stroke-width="0.3" font-weight="bold" textLength="11.01" lengthAdjust="spacingAndGlyphs" >10</text>
<text x="570.71" y="163.55" font-size="10.58" fill="#111" stroke="#111" stroke-width="0.3" font-weight="bold" textLength="10.85" lengthAdjust="spacingAndGlyphs" >15</text>
<text x="605.36" y="163.55" font-size="10.43" fill="#111" stroke="#111" stroke-width="0.3" font-weight="bold" textLength="10.75" lengthAdjust="spacingAndGlyphs" >20</text>
<text x="639.77" y="163.55" font-size="10.43" fill="#111" stroke="#111" stroke-width="0.3" font-weight="bold" textLength="10.59" lengthAdjust="spacingAndGlyphs" >25</text>
<text x="558.30" y="175.25" font-size="9.52" fill="#111" stroke="#111" stroke-width="0.3" font-weight="bold" textLength="40.71" lengthAdjust="spacingAndGlyphs" >2θ (deg.)</text>
<text x="469.60" y="74.20" font-size="10.3" fill="#111" stroke="#111" stroke-width="0.3" font-weight="bold" text-anchor="middle" textLength="41.20" lengthAdjust="spacingAndGlyphs" transform="rotate(-90 469.60 74.20)">Intensity</text>
<line x1="494.50" y1="15.20" x2="519.60" y2="15.20" stroke="#c23a4c" stroke-width="1.5" />
<line x1="494.50" y1="28.20" x2="519.60" y2="28.20" stroke="#3a7cc4" stroke-width="1.5" />
<line x1="494.50" y1="41.50" x2="519.60" y2="41.50" stroke="#f7941e" stroke-width="1.5" />
<circle cx="540.0" cy="94.0" r="21.7" fill="none" stroke="#ec2430" stroke-width="1.0" stroke-dasharray="1.1 1.1"/>
<circle cx="610.7" cy="30.4" r="21.7" fill="none" stroke="#ec2430" stroke-width="1.0" stroke-dasharray="1.1 1.1"/>
<circle cx="655.5" cy="59.2" r="21.7" fill="none" stroke="#ec2430" stroke-width="1.0" stroke-dasharray="1.1 1.1"/>
<line x1="547.4" y1="96.2" x2="615.0" y2="106.0" stroke="#111" stroke-width="0.9" stroke-dasharray="4 1.6 1 1.6"/>
<circle cx="547.4" cy="96.2" r="2.1" fill="#111"/>
<line x1="616.3" y1="40.3" x2="615.0" y2="106.0" stroke="#111" stroke-width="0.9" stroke-dasharray="4 1.6 1 1.6"/>
<circle cx="616.3" cy="40.3" r="2.1" fill="#111"/>
<line x1="655.9" y1="70.3" x2="615.0" y2="106.0" stroke="#111" stroke-width="0.9" stroke-dasharray="4 1.6 1 1.6"/>
<circle cx="655.9" cy="70.3" r="2.1" fill="#111"/>
<text x="563.41" y="120.75" font-size="10.48" fill="#c30a14" stroke="#c30a14" stroke-width="0.3" font-weight="bold" textLength="102.26" lengthAdjust="spacingAndGlyphs" >Crystallization peak</text>
<text x="520.25" y="18.25" font-size="9.43" fill="#111" stroke="#111" stroke-width="0.3" font-weight="bold" textLength="22.21" lengthAdjust="spacingAndGlyphs" >LCN</text>
<text x="520.24" y="31.15" font-size="9.24" fill="#111" stroke="#111" stroke-width="0.3" font-weight="bold" textLength="65.23" lengthAdjust="spacingAndGlyphs" >LC-semi-IPN</text>
<text x="520.53" y="44.15" font-size="9.29" fill="#111" stroke="#111" stroke-width="0.3" font-weight="bold" textLength="30.07" lengthAdjust="spacingAndGlyphs" >c-LCP</text>
<clipPath id="clipd"><rect x="17.0" y="185.4" width="198.6" height="145.99999999999997"/></clipPath>
<g clip-path="url(#clipd)">
<rect x="17.0" y="185.4" width="198.6" height="145.99999999999997" fill="none" stroke="#1a1a1a" stroke-width="1.1"/>
</g>
<rect x="17.0" y="185.4" width="198.6" height="145.99999999999997" fill="none" stroke="#1a1a1a" stroke-width="1.1"/>
<line x1="43.50" y1="331.40" x2="43.50" y2="334.40" stroke="#1a1a1a" stroke-width="1.0" />
<line x1="77.95" y1="331.40" x2="77.95" y2="334.40" stroke="#1a1a1a" stroke-width="1.0" />
<line x1="112.40" y1="331.40" x2="112.40" y2="334.40" stroke="#1a1a1a" stroke-width="1.0" />
<line x1="146.85" y1="331.40" x2="146.85" y2="334.40" stroke="#1a1a1a" stroke-width="1.0" />
<line x1="181.30" y1="331.40" x2="181.30" y2="334.40" stroke="#1a1a1a" stroke-width="1.0" />
<line x1="215.75" y1="331.40" x2="215.75" y2="334.40" stroke="#1a1a1a" stroke-width="1.0" />
<line x1="26.27" y1="331.40" x2="26.27" y2="333.20" stroke="#1a1a1a" stroke-width="1.0" />
<line x1="60.72" y1="331.40" x2="60.72" y2="333.20" stroke="#1a1a1a" stroke-width="1.0" />
<line x1="95.17" y1="331.40" x2="95.17" y2="333.20" stroke="#1a1a1a" stroke-width="1.0" />
<line x1="129.62" y1="331.40" x2="129.62" y2="333.20" stroke="#1a1a1a" stroke-width="1.0" />
<line x1="164.08" y1="331.40" x2="164.08" y2="333.20" stroke="#1a1a1a" stroke-width="1.0" />
<line x1="198.53" y1="331.40" x2="198.53" y2="333.20" stroke="#1a1a1a" stroke-width="1.0" />
<text x="40.95" y="345.75" font-size="10.00" fill="#111" stroke="#111" stroke-width="0.3" font-weight="bold" textLength="5.06" lengthAdjust="spacingAndGlyphs" >5</text>
<text x="72.36" y="345.75" font-size="9.86" fill="#111" stroke="#111" stroke-width="0.3" font-weight="bold" textLength="11.01" lengthAdjust="spacingAndGlyphs" >10</text>
<text x="106.81" y="345.75" font-size="10.00" fill="#111" stroke="#111" stroke-width="0.3" font-weight="bold" textLength="10.85" lengthAdjust="spacingAndGlyphs" >15</text>
<text x="141.51" y="345.75" font-size="9.86" fill="#111" stroke="#111" stroke-width="0.3" font-weight="bold" textLength="10.75" lengthAdjust="spacingAndGlyphs" >20</text>
<text x="175.97" y="345.75" font-size="9.86" fill="#111" stroke="#111" stroke-width="0.3" font-weight="bold" textLength="10.59" lengthAdjust="spacingAndGlyphs" >25</text>
<text x="96.61" y="358.35" font-size="9.79" fill="#111" stroke="#111" stroke-width="0.3" font-weight="bold" textLength="40.30" lengthAdjust="spacingAndGlyphs" >2θ (deg.)</text>
<text x="8.40" y="259.70" font-size="10.2" fill="#111" stroke="#111" stroke-width="0.3" font-weight="bold" text-anchor="middle" textLength="38.80" lengthAdjust="spacingAndGlyphs" transform="rotate(-90 8.40 259.70)">Intensity</text>
<rect x="247.2" y="184.6" width="198.2" height="146.1" fill="none" stroke="#1a1a1a" stroke-width="1.1"/>
<line x1="254.10" y1="330.70" x2="254.10" y2="333.70" stroke="#1a1a1a" stroke-width="1.0" />
<line x1="287.20" y1="330.70" x2="287.20" y2="333.70" stroke="#1a1a1a" stroke-width="1.0" />
<line x1="320.30" y1="330.70" x2="320.30" y2="333.70" stroke="#1a1a1a" stroke-width="1.0" />
<line x1="353.40" y1="330.70" x2="353.40" y2="333.70" stroke="#1a1a1a" stroke-width="1.0" />
<line x1="386.50" y1="330.70" x2="386.50" y2="333.70" stroke="#1a1a1a" stroke-width="1.0" />
<line x1="419.60" y1="330.70" x2="419.60" y2="333.70" stroke="#1a1a1a" stroke-width="1.0" />
<line x1="270.65" y1="330.70" x2="270.65" y2="332.50" stroke="#1a1a1a" stroke-width="1.0" />
<line x1="303.75" y1="330.70" x2="303.75" y2="332.50" stroke="#1a1a1a" stroke-width="1.0" />
<line x1="336.85" y1="330.70" x2="336.85" y2="332.50" stroke="#1a1a1a" stroke-width="1.0" />
<line x1="369.95" y1="330.70" x2="369.95" y2="332.50" stroke="#1a1a1a" stroke-width="1.0" />
<line x1="403.05" y1="330.70" x2="403.05" y2="332.50" stroke="#1a1a1a" stroke-width="1.0" />
<line x1="436.15" y1="330.70" x2="436.15" y2="332.50" stroke="#1a1a1a" stroke-width="1.0" />
<text x="248.19" y="345.75" font-size="9.86" fill="#111" stroke="#111" stroke-width="0.3" font-weight="bold" textLength="14.87" lengthAdjust="spacingAndGlyphs" >-25</text>
<text x="284.54" y="345.75" font-size="9.86" fill="#111" stroke="#111" stroke-width="0.3" font-weight="bold" textLength="5.33" lengthAdjust="spacingAndGlyphs" >0</text>
<text x="314.97" y="345.75" font-size="9.86" fill="#111" stroke="#111" stroke-width="0.3" font-weight="bold" textLength="10.59" lengthAdjust="spacingAndGlyphs" >25</text>
<text x="348.11" y="345.75" font-size="9.86" fill="#111" stroke="#111" stroke-width="0.3" font-weight="bold" textLength="10.70" lengthAdjust="spacingAndGlyphs" >50</text>
<text x="381.12" y="345.75" font-size="10.00" fill="#111" stroke="#111" stroke-width="0.3" font-weight="bold" textLength="10.64" lengthAdjust="spacingAndGlyphs" >75</text>
<text x="411.28" y="345.75" font-size="9.86" fill="#111" stroke="#111" stroke-width="0.3" font-weight="bold" textLength="16.47" lengthAdjust="spacingAndGlyphs" >100</text>
<text x="312.85" y="357.45" font-size="8.69" fill="#111" stroke="#111" stroke-width="0.3" font-weight="bold" textLength="78.38" lengthAdjust="spacingAndGlyphs" >Temperature (<tspan font-weight="normal">°C</tspan>)</text>
<text x="235.30" y="252.00" font-size="9.6" fill="#111" stroke="#111" stroke-width="0.3" font-weight="bold" text-anchor="middle" textLength="66.80" lengthAdjust="spacingAndGlyphs" transform="rotate(-90 235.30 252.00)">Heat flow (W/g)</text>
<text x="238.40" y="318.00" font-size="9.4" fill="#111" stroke="#111" stroke-width="0.3" font-weight="bold" text-anchor="middle" textLength="15.20" lengthAdjust="spacingAndGlyphs" transform="rotate(-90 238.40 318.00)">exo</text>
<rect x="481.2" y="185.6" width="198.90000000000003" height="146.79999999999998" fill="none" stroke="#1a1a1a" stroke-width="1.1"/>
<line x1="480.50" y1="332.40" x2="480.50" y2="335.40" stroke="#1a1a1a" stroke-width="1.0" />
<line x1="520.40" y1="332.40" x2="520.40" y2="335.40" stroke="#1a1a1a" stroke-width="1.0" />
<line x1="560.30" y1="332.40" x2="560.30" y2="335.40" stroke="#1a1a1a" stroke-width="1.0" />
<line x1="600.20" y1="332.40" x2="600.20" y2="335.40" stroke="#1a1a1a" stroke-width="1.0" />
<line x1="640.10" y1="332.40" x2="640.10" y2="335.40" stroke="#1a1a1a" stroke-width="1.0" />
<line x1="680.00" y1="332.40" x2="680.00" y2="335.40" stroke="#1a1a1a" stroke-width="1.0" />
<line x1="500.45" y1="332.40" x2="500.45" y2="334.20" stroke="#1a1a1a" stroke-width="1.0" />
<line x1="540.35" y1="332.40" x2="540.35" y2="334.20" stroke="#1a1a1a" stroke-width="1.0" />
<line x1="580.25" y1="332.40" x2="580.25" y2="334.20" stroke="#1a1a1a" stroke-width="1.0" />
<line x1="620.15" y1="332.40" x2="620.15" y2="334.20" stroke="#1a1a1a" stroke-width="1.0" />
<line x1="660.05" y1="332.40" x2="660.05" y2="334.20" stroke="#1a1a1a" stroke-width="1.0" />
<text x="475.17" y="345.75" font-size="9.86" fill="#111" stroke="#111" stroke-width="0.3" font-weight="bold" textLength="10.59" lengthAdjust="spacingAndGlyphs" >25</text>
<text x="515.11" y="345.75" font-size="9.86" fill="#111" stroke="#111" stroke-width="0.3" font-weight="bold" textLength="10.70" lengthAdjust="spacingAndGlyphs" >50</text>
<text x="554.92" y="345.75" font-size="10.00" fill="#111" stroke="#111" stroke-width="0.3" font-weight="bold" textLength="10.64" lengthAdjust="spacingAndGlyphs" >75</text>
<text x="591.88" y="345.75" font-size="9.86" fill="#111" stroke="#111" stroke-width="0.3" font-weight="bold" textLength="16.47" lengthAdjust="spacingAndGlyphs" >100</text>
<text x="631.79" y="345.75" font-size="9.86" fill="#111" stroke="#111" stroke-width="0.3" font-weight="bold" textLength="16.32" lengthAdjust="spacingAndGlyphs" >125</text>
<text x="668.68" y="345.75" font-size="9.86" fill="#111" stroke="#111" stroke-width="0.3" font-weight="bold" textLength="16.47" lengthAdjust="spacingAndGlyphs" >150</text>
<text x="540.75" y="357.45" font-size="8.69" fill="#111" stroke="#111" stroke-width="0.3" font-weight="bold" textLength="78.18" lengthAdjust="spacingAndGlyphs" >Temperature (<tspan font-weight="normal">°C</tspan>)</text>
<line x1="481.20" y1="332.20" x2="478.20" y2="332.20" stroke="#1a1a1a" stroke-width="1.0" />
<text x="468.00" y="339.65" font-size="8.43" fill="#111" stroke="#111" stroke-width="0.3" font-weight="bold" textLength="4.80" lengthAdjust="spacingAndGlyphs" >0</text>
<line x1="481.20" y1="302.88" x2="478.20" y2="302.88" stroke="#1a1a1a" stroke-width="1.0" />
<text x="461.67" y="308.63" font-size="8.57" fill="#111" stroke="#111" stroke-width="0.3" font-weight="bold" textLength="13.37" lengthAdjust="spacingAndGlyphs" >0.2</text>
<line x1="481.20" y1="273.56" x2="478.20" y2="273.56" stroke="#1a1a1a" stroke-width="1.0" />
<text x="461.68" y="279.31" font-size="8.57" fill="#111" stroke="#111" stroke-width="0.3" font-weight="bold" textLength="13.02" lengthAdjust="spacingAndGlyphs" >0.4</text>
<line x1="481.20" y1="244.24" x2="478.20" y2="244.24" stroke="#1a1a1a" stroke-width="1.0" />
<text x="461.67" y="249.99" font-size="8.57" fill="#111" stroke="#111" stroke-width="0.3" font-weight="bold" textLength="13.32" lengthAdjust="spacingAndGlyphs" >0.6</text>
<line x1="481.20" y1="214.92" x2="478.20" y2="214.92" stroke="#1a1a1a" stroke-width="1.0" />
<text x="461.67" y="220.67" font-size="8.57" fill="#111" stroke="#111" stroke-width="0.3" font-weight="bold" textLength="13.27" lengthAdjust="spacingAndGlyphs" >0.8</text>
<line x1="481.20" y1="185.60" x2="478.20" y2="185.60" stroke="#1a1a1a" stroke-width="1.0" />
<text x="461.46" y="191.35" font-size="8.57" fill="#111" stroke="#111" stroke-width="0.3" font-weight="bold" textLength="13.58" lengthAdjust="spacingAndGlyphs" >1.0</text>
<line x1="481.20" y1="317.54" x2="479.40" y2="317.54" stroke="#1a1a1a" stroke-width="1.0" />
<line x1="481.20" y1="288.22" x2="479.40" y2="288.22" stroke="#1a1a1a" stroke-width="1.0" />
<line x1="481.20" y1="258.90" x2="479.40" y2="258.90" stroke="#1a1a1a" stroke-width="1.0" />
<line x1="481.20" y1="229.58" x2="479.40" y2="229.58" stroke="#1a1a1a" stroke-width="1.0" />
<line x1="481.20" y1="200.26" x2="479.40" y2="200.26" stroke="#1a1a1a" stroke-width="1.0" />
<text x="458.30" y="259.90" font-size="10.0" fill="#111" stroke="#111" stroke-width="0.3" font-weight="bold" text-anchor="middle" textLength="21.60" lengthAdjust="spacingAndGlyphs" transform="rotate(-90 458.30 259.90)">tan <tspan font-weight="normal">δ</tspan></text>
<g clip-path="url(#clipd)">
<polygon points="17.20,315.05 17.90,318.17 18.60,318.83 19.30,315.86 20.00,311.86 20.70,306.40 21.40,302.31 22.10,298.64 22.80,295.19 23.50,292.47 24.20,291.99 24.90,295.50 25.60,300.66 26.30,304.45 27.00,308.32 27.70,310.54 28.40,313.05 29.10,314.26 29.80,315.19 30.50,315.73 31.20,315.99 31.90,316.05 32.60,316.30 33.30,316.57 34.00,317.15 34.70,316.67 35.40,316.88 36.10,317.43 36.80,316.99 37.50,316.81 38.20,316.75 38.90,317.16 39.60,316.88 40.30,317.39 41.00,317.22 41.70,317.21 42.40,316.45 43.10,316.18 43.80,316.07 44.50,316.31 45.20,316.37 45.90,316.01 46.60,315.68 47.30,315.71 48.00,315.76 48.70,315.67 49.40,315.59 50.10,315.54 50.80,315.23 51.50,314.59 52.20,315.08 52.90,314.44 53.60,314.53 54.30,314.20 55.00,314.37 55.70,313.72 56.40,313.60 57.10,313.43 57.80,313.17 58.50,313.66 59.20,313.21 59.90,312.80 60.60,312.68 61.30,313.03 62.00,312.41 62.70,311.96 63.40,312.28 64.10,311.93 64.80,312.01 65.50,310.99 66.20,311.09 66.90,311.15 67.60,310.92 68.30,310.72 69.00,309.66 69.70,309.61 70.40,309.16 71.10,308.92 71.80,309.30 72.50,308.63 73.20,308.60 73.90,307.75 74.60,307.84 75.30,307.11 76.00,306.57 76.70,306.67 77.40,306.44 78.10,305.30 78.80,305.36 79.50,305.00 80.20,304.25 80.90,304.00 81.60,303.41 82.30,303.08 83.00,302.74 83.70,302.66 84.40,302.32 85.10,301.52 85.80,300.95 86.50,300.84 87.20,300.75 87.90,299.89 88.60,299.60 89.30,299.08 90.00,299.19 90.70,298.53 91.40,297.65 92.10,297.23 92.80,297.02 93.50,296.67 94.20,296.23 94.90,295.18 95.60,294.65 96.30,294.49 97.00,293.56 97.70,292.74 98.40,292.03 99.10,291.89 99.80,290.62 100.50,290.19 101.20,289.35 101.90,288.75 102.60,288.49 103.30,287.94 104.00,286.69 104.70,285.83 105.40,285.59 106.10,284.39 106.80,283.47 107.50,283.52 108.20,282.32 108.90,281.88 109.60,280.69 110.30,280.28 111.00,279.00 111.70,277.78 112.40,276.68 113.10,276.20 113.80,275.36 114.50,274.70 115.20,273.07 115.90,272.68 116.60,271.59 117.30,270.85 118.00,269.67 118.70,268.93 119.40,268.29 120.10,267.79 120.80,266.19 121.50,265.67 122.20,265.08 122.90,264.36 123.60,262.79 124.30,261.84 125.00,261.67 125.70,260.79 126.40,259.42 127.10,258.10 127.80,257.95 128.50,256.53 129.20,256.06 129.90,254.87 130.60,254.13 131.30,252.61 132.00,252.27 132.70,250.88 133.40,250.19 134.10,249.77 134.80,248.95 135.50,247.60 136.20,246.91 136.90,246.39 137.60,245.89 138.30,245.21 139.00,244.47 139.70,244.11 140.40,244.09 141.10,243.83 141.80,242.67 142.50,242.79 143.20,242.65 143.90,241.72 144.60,242.20 145.30,241.35 146.00,241.64 146.70,241.50 147.40,241.51 148.10,241.22 148.80,241.35 149.50,241.58 150.20,241.55 150.90,241.92 151.60,241.92 152.30,242.15 153.00,242.03 153.70,242.86 154.40,243.07 155.10,243.20 155.80,244.06 156.50,244.49 157.20,244.64 157.90,244.85 158.60,245.60 159.30,245.78 160.00,246.33 160.70,247.16 161.40,247.44 162.10,248.39 162.80,249.12 163.50,249.40 164.20,250.66 164.90,250.90 165.60,252.23 166.30,253.01 167.00,253.51 167.70,253.81 168.40,254.91 169.10,255.46 169.80,256.64 170.50,256.57 171.20,257.87 171.90,258.64 172.60,259.03 173.30,259.72 174.00,259.74 174.70,261.01 175.40,261.08 176.10,261.93 176.80,262.26 177.50,261.90 178.20,262.78 178.90,263.26 179.60,262.87 180.30,263.55 181.00,264.36 181.70,264.27 182.40,265.40 183.10,265.30 183.80,266.25 184.50,266.11 185.20,266.90 185.90,267.74 186.60,267.56 187.30,268.07 188.00,268.74 188.70,269.02 189.40,269.21 190.10,269.77 190.80,270.18 191.50,271.29 192.20,271.46 192.90,272.06 193.60,271.80 194.30,272.74 195.00,272.52 195.70,273.28 196.40,273.76 197.10,273.89 197.80,274.73 198.50,274.84 199.20,275.38 199.90,274.53 200.60,272.30 201.30,276.41 202.00,276.82 202.70,276.37 203.40,277.82 204.10,278.49 204.80,279.78 205.50,279.92 206.20,280.20 206.90,281.01 207.60,281.16 208.30,281.36 209.00,282.29 209.70,282.09 210.40,283.20 211.10,283.11 211.80,283.87 212.50,284.60 213.20,284.65 213.90,285.13 214.60,285.23 215.30,285.37 215.60,331.40 17.20,331.40" fill="#eaf1f9"/>
<polyline points="17.20,298.03 17.90,301.64 18.60,302.17 19.30,298.29 20.00,291.58 20.70,283.88 21.40,277.23 22.10,271.52 22.80,269.04 23.50,269.06 24.20,271.25 24.90,275.99 25.60,282.29 26.30,290.41 27.00,296.48 27.70,300.47 28.40,302.44 29.10,303.18 29.80,303.86 30.50,304.59 31.20,303.90 31.90,304.44 32.60,304.16 33.30,304.77 34.00,304.91 34.70,304.48 35.40,304.02 36.10,304.32 36.80,304.15 37.50,304.14 38.20,303.78 38.90,303.71 39.60,303.69 40.30,303.22 41.00,302.92 41.70,303.21 42.40,302.35 43.10,302.59 43.80,302.14 44.50,302.29 45.20,301.53 45.90,302.13 46.60,301.38 47.30,300.92 48.00,300.93 48.70,300.85 49.40,300.31 50.10,300.49 50.80,300.29 51.50,300.34 52.20,299.82 52.90,299.52 53.60,299.23 54.30,299.37 55.00,299.14 55.70,298.29 56.40,297.58 57.10,297.80 57.80,297.32 58.50,297.16 59.20,297.08 59.90,297.57 60.60,297.41 61.30,296.96 62.00,296.40 62.70,295.89 63.40,294.85 64.10,294.77 64.80,293.73 65.50,293.87 66.20,294.17 66.90,294.31 67.60,293.98 68.30,293.65 69.00,293.56 69.70,292.69 70.40,292.53 71.10,290.92 71.80,290.07 72.50,288.72 73.20,288.87 73.90,289.51 74.60,290.76 75.30,291.41 76.00,291.67 76.70,292.27 77.40,291.40 78.10,290.74 78.80,290.23 79.50,289.91 80.20,289.31 80.90,288.78 81.60,287.97 82.30,286.99 83.00,287.16 83.70,287.19 84.40,286.80 85.10,287.78 85.80,287.94 86.50,287.71 87.20,286.84 87.90,287.06 88.60,286.41 89.30,285.39 90.00,285.02 90.70,285.64 91.40,285.24 92.10,284.74 92.80,284.39 93.50,284.11 94.20,283.79 94.90,283.81 95.60,282.92 96.30,282.22 97.00,282.35 97.70,281.70 98.40,280.58 99.10,280.65 99.80,279.81 100.50,279.37 101.20,278.67 101.90,278.26 102.60,277.54 103.30,276.96 104.00,275.75 104.70,275.56 105.40,274.76 106.10,274.29 106.80,273.35 107.50,273.09 108.20,272.11 108.90,271.16 109.60,270.44 110.30,269.64 111.00,269.24 111.70,268.12 112.40,267.74 113.10,266.70 113.80,266.25 114.50,265.48 115.20,264.73 115.90,264.23 116.60,262.67 117.30,262.62 118.00,261.47 118.70,260.74 119.40,260.02 120.10,259.36 120.80,258.11 121.50,257.33 122.20,256.99 122.90,255.36 123.60,255.03 124.30,254.20 125.00,252.83 125.70,252.52 126.40,251.75 127.10,251.13 127.80,249.74 128.50,249.47 129.20,248.18 129.90,247.29 130.60,246.78 131.30,245.12 132.00,244.84 132.70,243.86 133.40,242.69 134.10,242.25 134.80,240.88 135.50,240.02 136.20,239.04 136.90,238.13 137.60,236.45 138.30,235.46 139.00,234.34 139.70,233.53 140.40,233.13 141.10,232.38 141.80,232.94 142.50,232.90 143.20,233.44 143.90,233.61 144.60,233.94 145.30,234.14 146.00,233.37 146.70,232.88 147.40,231.79 148.10,231.16 148.80,230.69 149.50,230.78 150.20,231.03 150.90,231.66 151.60,231.62 152.30,232.81 153.00,233.27 153.70,232.71 154.40,231.50 155.10,231.20 155.80,230.91 156.50,231.33 157.20,232.36 157.90,232.55 158.60,233.11 159.30,233.79 160.00,234.47 160.70,234.78 161.40,235.36 162.10,235.95 162.80,236.60 163.50,237.13 164.20,237.84 164.90,238.05 165.60,239.10 166.30,239.56 167.00,240.48 167.70,240.53 168.40,241.23 169.10,241.73 169.80,243.02 170.50,243.76 171.20,244.14 171.90,244.47 172.60,245.47 173.30,246.01 174.00,246.37 174.70,246.64 175.40,247.22 176.10,247.86 176.80,248.29 177.50,248.90 178.20,249.61 178.90,250.38 179.60,250.09 180.30,251.05 181.00,251.07 181.70,251.63 182.40,252.74 183.10,253.02 183.80,253.81 184.50,253.88 185.20,253.97 185.90,254.78 186.60,255.45 187.30,256.24 188.00,256.76 188.70,256.78 189.40,257.20 190.10,257.40 190.80,258.36 191.50,258.45 192.20,258.87 192.90,259.23 193.60,259.70 194.30,260.79 195.00,260.76 195.70,262.00 196.40,261.69 197.10,262.87 197.80,262.68 198.50,263.06 199.20,264.17 199.90,264.21 200.60,265.13 201.30,265.11 202.00,265.46 202.70,266.58 203.40,267.00 204.10,267.60 204.80,267.96 205.30,267.85 205.80,265.85 206.30,268.35 206.80,267.85 207.60,269.60 208.30,270.49 209.00,270.35 209.70,271.46 210.40,271.71 211.10,271.54 211.80,272.01 212.50,273.05 213.20,273.67 213.90,273.48 214.60,274.16 215.30,275.00" fill="none" stroke="#f04850" stroke-width="1.05" stroke-linejoin="round" />
<polyline points="17.20,287.07 17.90,290.10 18.60,291.38 19.30,287.34 20.00,281.82 20.70,274.72 21.40,268.92 22.10,263.44 22.80,260.63 23.50,260.59 24.20,262.97 24.90,267.99 25.60,273.84 26.30,281.45 27.00,287.86 27.70,291.18 28.40,293.85 29.10,294.70 29.80,295.41 30.50,295.26 31.20,295.66 31.90,296.07 32.60,295.98 33.30,295.79 34.00,295.50 34.70,295.52 35.40,295.81 36.10,295.20 36.80,295.29 37.50,295.01 38.20,295.06 38.90,294.76 39.60,294.06 40.30,293.57 41.00,293.57 41.70,293.47 42.40,293.39 43.10,293.36 43.80,293.20 44.50,292.22 45.20,292.71 45.90,292.47 46.60,292.29 47.30,291.79 48.00,291.29 48.70,291.57 49.40,291.29 50.10,290.94 50.80,290.91 51.50,290.15 52.20,289.67 52.90,289.83 53.60,289.76 54.30,288.89 55.00,288.98 55.70,288.70 56.40,287.65 57.10,287.68 57.80,287.58 58.50,287.32 59.20,287.02 59.90,286.93 60.60,287.16 61.30,286.90 62.00,286.15 62.70,285.17 63.40,284.98 64.10,284.13 64.80,283.13 65.50,283.40 66.20,283.95 66.90,284.23 67.60,284.00 68.30,283.85 69.00,283.69 69.70,282.91 70.40,282.23 71.10,281.22 71.80,280.60 72.50,279.59 73.20,279.80 73.90,280.27 74.60,281.33 75.30,281.78 76.00,282.09 76.70,282.91 77.40,281.90 78.10,281.05 78.80,280.99 79.50,280.67 80.20,279.56 80.90,279.25 81.60,278.20 82.30,277.65 83.00,276.89 83.70,277.02 84.40,278.25 85.10,278.46 85.80,278.23 86.50,278.20 87.20,277.62 87.90,277.64 88.60,276.78 89.30,276.74 90.00,276.20 90.70,276.08 91.40,276.18 92.10,275.52 92.80,275.20 93.50,275.09 94.20,274.71 94.90,274.18 95.60,273.66 96.30,273.61 97.00,273.37 97.70,272.46 98.40,272.35 99.10,271.75 99.80,270.42 100.50,270.32 101.20,269.55 101.90,268.70 102.60,268.85 103.30,267.60 104.00,267.25 104.70,266.69 105.40,266.34 106.10,265.44 106.80,264.53 107.50,263.93 108.20,263.00 108.90,263.05 109.60,262.39 110.30,261.00 111.00,260.13 111.70,259.60 112.40,258.96 113.10,258.71 113.80,257.97 114.50,257.14 115.20,255.66 115.90,255.55 116.60,254.70 117.30,253.85 118.00,253.36 118.70,251.73 119.40,251.00 120.10,250.74 120.80,250.10 121.50,249.05 122.20,247.89 122.90,247.34 123.60,246.67 124.30,245.27 125.00,244.65 125.70,243.77 126.40,242.82 127.10,242.32 127.80,241.20 128.50,240.42 129.20,239.48 129.90,239.10 130.60,237.64 131.30,237.40 132.00,236.05 132.70,235.02 133.40,234.93 134.10,233.39 134.80,233.12 135.50,232.12 136.20,231.12 136.90,229.34 137.60,228.45 138.30,226.95 139.00,226.60 139.70,225.62 140.40,224.79 141.10,224.37 141.80,224.37 142.50,225.15 143.20,225.31 143.90,225.83 144.60,225.53 145.30,225.39 146.00,224.78 146.70,224.76 147.40,223.97 148.10,222.99 148.80,223.20 149.50,222.49 150.20,222.83 150.90,223.08 151.60,223.80 152.30,224.88 153.00,224.72 153.70,224.30 154.40,223.82 155.10,223.13 155.80,223.62 156.50,223.15 157.20,224.30 157.90,223.92 158.60,225.19 159.30,225.53 160.00,225.68 160.70,226.48 161.40,226.88 162.10,227.42 162.80,227.96 163.50,228.71 164.20,229.89 164.90,230.52 165.60,231.09 166.30,230.98 167.00,231.79 167.70,232.96 168.40,232.83 169.10,234.06 169.80,234.28 170.50,235.50 171.20,235.23 171.90,236.53 172.60,236.68 173.30,237.06 174.00,237.49 174.70,238.78 175.40,239.03 176.10,239.24 176.80,239.98 177.50,240.91 178.20,240.79 178.90,241.60 179.60,241.71 180.30,242.23 181.00,243.25 181.70,243.68 182.40,243.69 183.10,244.06 183.80,244.55 184.50,245.49 185.20,245.86 185.90,246.13 186.60,246.54 187.30,247.37 188.00,247.93 188.70,248.49 189.40,248.75 190.10,248.87 190.80,249.22 191.50,250.28 192.20,250.46 192.90,251.21 193.60,251.08 194.30,252.23 195.00,252.27 195.70,253.19 196.40,253.68 197.10,253.81 197.80,253.85 198.50,255.12 199.20,255.20 199.90,256.01 200.60,255.93 201.30,256.32 202.00,257.37 202.70,257.41 203.40,257.69 204.10,258.34 204.80,259.00 205.50,258.93 206.20,259.85 206.90,260.24 207.60,260.77 208.30,260.87 208.60,260.87 209.10,257.37 209.60,262.37 210.10,260.87 211.10,262.89 211.80,263.70 212.50,263.86 213.20,264.65 213.90,264.49 214.60,265.68 215.30,266.21" fill="none" stroke="#f5893a" stroke-width="1.05" stroke-linejoin="round" />
<polyline points="17.20,278.42 17.90,280.83 18.60,281.88 19.30,278.54 20.00,273.00 20.70,267.24 21.40,260.77 22.10,255.41 22.80,253.38 23.50,252.92 24.20,254.74 24.90,260.04 25.60,265.89 26.30,273.49 27.00,280.18 27.70,283.10 28.40,285.60 29.10,286.54 29.80,286.52 30.50,286.88 31.20,287.37 31.90,287.44 32.60,287.28 33.30,287.16 34.00,287.38 34.70,287.06 35.40,287.34 36.10,287.43 36.80,286.60 37.50,286.78 38.20,286.72 38.90,285.98 39.60,286.34 40.30,286.21 41.00,285.48 41.70,285.27 42.40,285.42 43.10,284.90 43.80,284.56 44.50,284.83 45.20,284.46 45.90,283.84 46.60,283.52 47.30,283.37 48.00,283.22 48.70,283.48 49.40,283.08 50.10,282.93 50.80,282.60 51.50,282.38 52.20,281.42 52.90,281.57 53.60,281.66 54.30,281.27 55.00,280.18 55.70,279.79 56.40,279.48 57.10,278.91 57.80,278.95 58.50,278.55 59.20,278.91 59.90,278.91 60.60,278.31 61.30,278.15 62.00,278.50 62.70,277.77 63.40,277.20 64.10,276.22 64.80,275.93 65.50,275.92 66.20,276.10 66.90,275.52 67.60,276.11 68.30,275.64 69.00,275.77 69.70,275.02 70.40,274.65 71.10,274.12 71.80,272.89 72.50,271.94 73.20,272.18 73.90,272.62 74.60,273.94 75.30,274.06 76.00,274.47 76.70,274.74 77.40,273.83 78.10,273.67 78.80,273.48 79.50,272.67 80.20,272.00 80.90,271.61 81.60,271.02 82.30,270.11 83.00,269.81 83.70,269.87 84.40,270.24 85.10,270.53 85.80,270.45 86.50,270.25 87.20,269.78 87.90,269.70 88.60,269.38 89.30,268.62 90.00,268.21 90.70,268.16 91.40,267.79 92.10,268.31 92.80,268.02 93.50,267.88 94.20,267.59 94.90,267.03 95.60,266.39 96.30,265.81 97.00,265.26 97.70,264.96 98.40,264.29 99.10,263.89 99.80,262.78 100.50,262.49 101.20,262.33 101.90,261.15 102.60,260.81 103.30,260.12 104.00,259.29 104.70,259.27 105.40,257.99 106.10,257.75 106.80,256.53 107.50,255.77 108.20,255.80 108.90,254.72 109.60,253.67 110.30,253.25 111.00,252.58 111.70,252.10 112.40,250.79 113.10,250.14 113.80,250.03 114.50,249.05 115.20,247.74 115.90,247.11 116.60,246.32 117.30,245.80 118.00,244.94 118.70,244.33 119.40,243.48 120.10,242.38 120.80,241.75 121.50,240.92 122.20,240.10 122.90,239.01 123.60,238.46 124.30,237.55 125.00,236.90 125.70,235.36 126.40,235.19 127.10,233.56 127.80,233.39 128.50,232.37 129.20,231.42 129.90,230.96 130.60,229.73 131.30,228.70 132.00,228.13 132.70,227.30 133.40,226.15 134.10,225.03 134.80,224.16 135.50,223.21 136.20,222.41 136.90,220.89 137.60,219.80 138.30,218.75 139.00,217.48 139.70,216.50 140.40,216.26 141.10,216.04 141.80,215.80 142.50,216.09 143.20,216.30 143.90,216.78 144.60,216.75 145.30,216.91 146.00,216.43 146.70,215.36 147.40,215.43 148.10,214.27 148.80,214.28 149.50,214.11 150.20,214.44 150.90,214.26 151.60,215.11 152.30,216.15 153.00,215.67 153.70,215.46 154.40,215.18 155.10,214.61 155.80,214.98 156.50,215.12 157.20,215.30 157.90,216.19 158.60,216.30 159.30,216.87 160.00,217.61 160.70,217.93 161.40,218.50 162.10,219.31 162.80,219.70 163.50,220.87 164.20,221.27 164.90,221.79 165.60,222.06 166.30,222.97 167.00,223.65 167.70,224.46 168.40,225.12 169.10,226.04 169.80,226.76 170.50,226.96 171.20,227.54 171.90,228.31 172.60,229.25 173.30,229.25 174.00,230.00 174.70,230.82 175.40,230.79 176.10,231.47 176.80,232.60 177.50,233.00 178.20,233.24 178.90,233.40 179.60,234.63 180.30,234.96 181.00,235.59 181.70,236.25 182.40,236.66 183.10,236.75 183.80,237.01 184.50,237.63 185.20,238.33 185.90,238.82 186.60,239.03 187.30,239.52 188.00,240.42 188.70,240.89 189.40,241.15 190.10,242.22 190.80,242.39 191.50,242.35 192.20,243.18 192.90,244.01 193.60,244.07 194.30,244.91 195.00,244.79 195.70,245.56 196.40,246.54 197.10,246.80 197.80,247.37 198.50,247.43 199.20,248.20 199.90,248.74 200.60,248.97 201.30,249.80 202.00,250.18 202.70,251.09 203.40,251.20 204.10,251.54 204.80,251.77 205.50,252.28 206.20,253.31 206.90,253.21 207.60,253.69 208.30,254.24 209.00,255.04 209.50,255.80 210.00,253.30 210.50,255.80 211.10,256.75 211.80,256.57 212.50,257.01 213.20,258.18 213.90,258.26 214.60,259.10 215.30,259.26" fill="none" stroke="#ecb456" stroke-width="1.05" stroke-linejoin="round" />
<polyline points="17.20,269.86 17.90,272.97 18.60,274.03 19.30,270.67 20.00,266.08 20.70,259.86 21.40,254.62 22.10,248.71 22.80,246.31 23.50,245.97 24.20,247.75 24.90,253.30 25.60,259.07 26.30,266.19 27.00,273.20 27.70,276.57 28.40,277.90 29.10,279.23 29.80,280.11 30.50,279.98 31.20,280.54 31.90,279.98 32.60,280.17 33.30,280.51 34.00,280.05 34.70,280.08 35.40,280.49 36.10,280.02 36.80,280.15 37.50,279.49 38.20,279.25 38.90,279.23 39.60,278.89 40.30,279.39 41.00,278.58 41.70,278.63 42.40,278.03 43.10,278.21 43.80,277.89 44.50,277.72 45.20,277.23 45.90,277.10 46.60,277.54 47.30,276.92 48.00,276.64 48.70,276.39 49.40,276.28 50.10,276.04 50.80,275.65 51.50,276.02 52.20,275.52 52.90,275.13 53.60,275.37 54.30,274.51 55.00,274.30 55.70,274.38 56.40,273.34 57.10,273.34 57.80,273.56 58.50,273.49 59.20,272.87 59.90,272.93 60.60,273.06 61.30,272.45 62.00,272.53 62.70,271.20 63.40,271.03 64.10,269.79 64.80,269.02 65.50,269.17 66.20,269.14 66.90,269.93 67.60,269.61 68.30,270.07 69.00,269.52 69.70,268.92 70.40,268.20 71.10,267.67 71.80,266.38 72.50,266.36 73.20,265.64 73.90,266.44 74.60,267.24 75.30,267.67 76.00,268.47 76.60,268.07 77.10,264.07 77.60,268.57 78.10,268.07 78.80,266.39 79.50,266.01 80.20,265.23 80.90,264.66 81.60,264.52 82.30,263.40 83.00,263.40 83.70,262.97 84.40,263.66 85.10,263.71 85.80,263.89 86.50,263.56 87.20,263.04 87.90,262.80 88.60,262.17 89.30,261.56 90.00,261.71 90.70,261.15 91.40,261.23 92.10,261.66 92.80,261.41 93.50,261.24 94.20,260.84 94.90,259.73 95.60,259.35 96.30,258.60 97.00,258.63 97.70,258.05 98.40,257.20 99.10,256.66 99.80,256.28 100.50,255.71 101.20,254.68 101.90,254.59 102.60,253.51 103.30,253.11 104.00,252.06 104.70,251.34 105.40,251.39 106.10,250.55 106.80,249.85 107.50,248.56 108.20,247.86 108.90,247.26 109.60,246.58 110.30,245.95 111.00,245.29 111.70,244.23 112.40,243.72 113.10,243.24 113.80,242.05 114.50,241.85 115.20,240.82 115.90,240.14 116.60,238.91 117.30,238.26 118.00,237.66 118.70,236.53 119.40,235.38 120.10,235.30 120.80,234.41 121.50,233.12 122.20,232.06 122.90,231.94 123.60,230.88 124.30,229.53 125.00,228.86 125.70,227.89 126.40,227.65 127.10,226.27 127.80,226.04 128.50,225.02 129.20,223.54 129.90,223.21 130.60,222.04 131.30,221.46 132.00,220.62 132.70,219.22 133.40,218.12 134.10,217.96 134.80,216.55 135.50,216.04 136.20,214.78 136.90,213.68 137.60,212.56 138.30,211.17 139.00,209.89 139.70,208.60 140.40,208.51 141.10,207.98 141.80,208.12 142.50,208.82 143.20,208.54 143.90,209.47 144.60,208.93 145.30,209.28 146.00,208.88 146.70,207.74 147.40,207.31 148.10,207.06 148.80,206.29 149.50,206.05 150.20,206.01 150.90,206.35 151.60,207.28 152.30,207.95 153.00,208.11 153.70,207.98 154.40,207.09 155.10,207.10 155.80,207.07 156.50,206.97 157.20,207.37 157.90,208.11 158.60,208.60 159.30,209.62 160.00,209.70 160.70,210.26 161.40,211.39 162.10,211.33 162.80,212.33 163.50,212.77 164.20,213.86 164.90,214.29 165.60,215.15 166.30,215.29 167.00,216.41 167.70,217.02 168.40,217.56 169.10,218.50 169.80,219.21 170.50,219.21 171.20,220.00 171.90,220.69 172.60,221.16 173.30,221.63 174.00,222.42 174.70,222.92 175.40,223.94 176.10,224.27 176.80,224.52 177.50,225.26 178.20,225.93 178.90,226.37 179.60,226.72 180.30,227.16 181.00,227.63 181.70,229.04 182.40,229.34 183.10,229.25 183.80,230.34 184.50,231.09 185.20,231.22 185.90,231.32 186.60,232.18 187.30,232.63 188.00,232.92 188.70,233.74 189.40,233.77 190.10,235.10 190.80,235.35 191.50,235.84 192.20,236.63 192.90,236.88 193.60,237.02 194.30,237.53 195.00,237.94 195.70,238.35 196.40,239.53 197.10,240.09 197.80,240.11 198.50,240.51 199.20,241.43 199.90,242.12 200.60,242.69 201.30,242.51 202.00,243.57 202.70,244.11 203.40,244.53 204.10,244.66 204.80,245.03 205.50,246.10 205.80,246.10 206.30,239.10 206.80,245.10 207.30,238.10 207.80,244.10 208.30,239.10 208.80,246.10 209.70,248.57 210.40,248.89 211.10,249.86 211.80,250.41 212.50,251.08 213.20,251.47 213.90,252.15 214.60,252.69 215.30,252.78" fill="none" stroke="#e6dc50" stroke-width="1.05" stroke-linejoin="round" />
<polyline points="17.20,262.17 17.90,264.69 18.60,266.07 19.30,263.57 20.00,257.56 20.70,251.69 21.40,246.41 22.10,240.42 22.80,238.21 23.50,237.55 24.20,240.37 24.90,245.35 25.60,251.40 26.30,259.04 27.00,265.70 27.70,269.64 28.40,271.39 29.10,272.42 29.80,272.94 30.50,273.33 31.20,273.70 31.90,273.92 32.60,274.04 33.30,273.40 34.00,273.50 34.70,273.56 35.40,273.56 36.10,273.22 36.80,272.91 37.50,272.62 38.20,272.63 38.90,272.54 39.60,272.78 40.30,272.50 41.00,272.23 41.70,272.10 42.40,271.87 43.10,271.34 43.80,271.30 44.50,270.42 45.20,270.76 45.90,270.49 46.60,269.99 47.30,270.02 48.00,270.14 48.70,269.49 49.40,269.42 50.10,268.88 50.80,268.69 51.50,268.94 52.20,267.93 52.90,267.82 53.60,267.97 54.30,267.39 55.00,266.59 55.70,266.56 56.40,265.79 57.10,265.65 57.80,265.40 58.50,265.54 59.20,265.61 59.90,265.40 60.60,264.97 61.30,264.74 62.00,264.96 62.70,264.04 63.40,262.86 64.10,262.76 64.80,261.71 65.50,261.50 66.20,262.09 66.90,262.06 67.60,262.32 68.30,262.24 69.00,261.66 69.70,261.52 70.40,260.35 71.10,259.61 71.80,258.46 72.50,257.22 73.20,257.57 73.90,257.98 74.60,259.37 75.30,260.60 76.00,260.74 76.70,260.86 77.40,260.44 78.10,259.25 78.80,259.49 79.50,258.76 80.20,257.64 80.90,257.54 81.60,256.27 82.30,255.33 83.00,255.71 83.70,255.49 84.40,256.09 85.10,255.87 85.80,256.58 86.50,255.84 87.20,255.72 87.90,255.41 88.60,254.58 89.30,254.60 90.00,253.90 90.70,253.79 91.40,254.10 92.10,253.79 92.80,254.05 93.50,253.52 94.20,253.36 94.90,252.62 95.60,252.42 96.30,251.84 97.00,250.65 97.70,250.60 98.40,249.65 99.10,249.43 99.80,248.75 100.50,248.26 101.20,247.00 101.90,246.58 102.60,246.26 103.30,245.80 104.00,244.93 104.70,243.65 105.40,243.48 106.10,242.34 106.80,242.05 107.50,241.58 108.20,240.25 108.90,240.27 109.60,239.32 110.30,238.21 111.00,237.41 111.70,236.88 112.40,236.47 113.10,235.46 113.80,234.25 114.50,233.36 115.20,232.64 115.90,232.45 116.60,231.07 117.30,230.58 118.00,229.51 118.70,229.03 119.40,227.91 120.10,226.85 120.80,226.66 121.50,225.51 122.20,224.79 122.90,224.04 123.60,223.31 124.30,221.62 125.00,221.06 125.70,220.03 126.40,219.49 127.10,218.95 127.80,218.01 128.50,216.44 129.20,215.69 129.90,215.37 130.60,214.34 131.30,213.17 132.00,212.33 132.70,211.12 133.40,210.81 134.10,209.46 134.80,208.94 135.50,207.73 136.20,206.19 136.90,205.27 137.60,203.96 138.30,203.36 139.00,201.95 139.70,200.51 140.40,199.95 141.10,199.83 141.80,199.98 142.50,200.40 143.20,200.65 143.90,200.97 144.60,200.75 145.30,201.02 146.00,200.29 146.70,199.36 147.40,199.06 148.10,198.89 148.80,197.57 149.50,197.49 150.20,198.18 150.90,198.33 151.60,198.99 152.30,199.80 153.00,199.93 153.70,199.97 154.40,199.19 155.10,199.08 155.80,199.10 156.50,198.52 157.20,199.39 157.90,200.06 158.60,200.70 159.30,201.19 160.00,201.66 160.70,202.26 161.40,202.62 162.10,203.14 162.80,204.22 163.50,204.93 164.20,205.64 164.90,206.07 165.60,206.39 166.30,207.47 167.00,208.12 167.70,208.58 168.40,209.35 169.10,209.74 169.80,210.57 170.50,211.08 171.20,211.40 171.90,212.26 172.60,212.86 173.30,214.05 174.00,214.18 174.70,214.65 175.40,215.09 176.10,215.64 176.80,216.29 177.50,216.63 178.20,217.05 178.90,218.36 179.60,218.51 180.30,219.02 181.00,219.65 181.70,219.92 182.40,220.32 183.10,220.73 183.80,221.45 184.50,221.97 185.20,222.85 185.90,223.19 186.60,224.04 187.30,224.01 188.00,225.03 188.70,225.22 189.40,225.27 190.10,225.86 190.80,226.72 191.50,227.59 192.20,227.52 192.90,228.39 193.60,228.58 194.30,229.48 195.00,229.26 195.70,230.14 196.40,231.01 197.10,230.95 197.80,231.44 198.50,231.72 199.20,232.35 199.90,232.94 200.60,233.83 201.30,233.88 202.00,234.54 202.70,234.86 203.40,235.71 204.10,236.44 204.80,236.74 205.50,236.83 206.20,237.80 206.90,238.50 207.60,238.67 208.30,238.69 209.00,239.84 209.70,240.39 210.40,240.40 211.10,240.71 211.80,241.25 212.50,242.05 213.20,242.85 213.90,243.13 214.60,243.88 215.30,243.73" fill="none" stroke="#ade048" stroke-width="1.05" stroke-linejoin="round" />
<polyline points="17.20,249.35 17.90,253.44 18.60,255.88 19.30,252.77 20.00,247.83 20.70,241.38 21.40,235.62 22.10,229.70 22.80,226.60 23.50,226.78 24.20,228.52 24.90,234.52 25.60,240.56 26.30,249.23 27.00,255.47 27.70,259.72 28.40,261.79 29.10,262.61 29.80,263.03 30.50,263.41 31.20,263.56 31.90,264.19 32.60,263.62 33.30,264.27 34.00,263.87 34.70,263.86 35.40,263.75 36.10,263.53 36.80,263.40 37.50,263.10 38.20,262.60 38.90,262.71 39.60,262.00 40.30,262.13 41.00,261.90 41.70,261.63 42.40,260.94 43.10,261.08 43.80,261.00 44.50,260.27 45.20,259.85 45.90,259.80 46.60,259.90 47.30,258.90 48.00,258.51 48.70,258.64 49.40,258.52 50.10,258.34 50.80,257.68 51.50,257.96 52.20,256.98 52.90,257.16 53.60,256.23 54.30,255.80 55.00,255.46 55.70,254.92 56.40,254.86 57.10,254.58 57.80,254.06 58.50,254.66 59.20,254.06 59.90,253.73 60.60,253.55 61.30,253.76 62.00,253.52 62.70,252.26 63.40,251.41 64.10,251.37 64.80,250.43 65.50,251.04 66.20,250.82 66.90,251.17 67.60,250.97 68.30,251.28 69.00,250.74 69.70,250.24 70.40,250.14 71.10,248.53 71.80,248.10 72.50,246.86 73.20,247.40 73.90,247.76 74.60,249.08 75.30,249.12 76.00,249.98 76.70,249.82 77.40,249.85 78.10,249.29 78.80,248.50 79.50,247.71 80.20,247.25 80.90,246.63 81.60,246.05 82.30,245.24 83.00,244.93 83.70,245.54 84.40,245.76 85.10,245.73 85.80,246.45 86.50,245.65 87.20,245.71 87.90,244.94 88.60,245.10 89.30,244.65 90.00,243.78 90.70,244.06 91.40,244.10 92.10,243.57 92.80,243.48 93.50,243.36 94.20,243.35 94.90,242.25 95.60,242.22 96.30,241.63 97.00,240.96 97.70,240.51 98.40,240.21 99.10,239.02 99.80,239.03 100.50,237.95 101.20,237.71 101.90,237.15 102.60,235.90 103.30,235.87 104.00,235.34 104.70,234.05 105.40,233.14 106.10,232.54 106.80,232.63 107.50,231.08 108.20,231.19 108.90,229.80 109.60,229.62 110.30,228.32 111.00,227.66 111.70,227.37 112.40,226.08 113.10,225.54 113.80,225.29 114.50,224.31 115.20,223.67 115.90,222.95 116.60,221.29 117.30,220.66 118.00,220.34 118.70,219.42 119.40,218.01 120.10,217.59 120.80,216.51 121.50,215.85 122.20,214.71 122.90,213.80 123.60,213.83 124.30,212.38 125.00,212.04 125.70,210.51 126.40,209.99 127.10,208.82 127.80,208.22 128.50,207.13 129.20,206.71 129.90,205.34 130.60,204.98 131.30,203.87 132.00,202.62 132.70,201.92 133.40,201.13 134.10,200.58 134.80,199.13 135.50,198.04 136.20,197.68 136.90,196.46 137.60,195.13 138.30,193.51 139.00,192.30 139.70,191.45 140.40,190.61 141.10,190.30 141.80,190.79 142.50,191.03 143.20,191.60 143.90,191.79 144.60,191.58 145.30,191.95 146.00,191.43 146.70,190.69 147.40,190.01 148.10,189.51 148.80,189.30 149.50,189.04 150.20,189.12 150.90,189.33 151.60,189.91 152.30,190.60 153.00,191.43 153.70,190.65 154.40,189.90 155.10,189.42 155.80,189.16 156.50,190.20 157.20,189.69 157.90,190.71 158.60,191.54 159.30,191.50 160.00,192.41 160.70,192.79 161.40,193.26 162.10,193.82 162.80,194.35 163.50,195.63 164.20,196.22 164.90,196.98 165.60,196.87 166.30,198.11 167.00,198.43 167.70,199.38 168.40,199.94 169.10,200.37 169.80,201.60 170.50,201.36 171.20,202.65 171.90,203.35 172.60,203.64 173.30,204.30 174.00,205.24 174.70,205.12 175.40,206.03 176.10,206.67 176.80,206.88 177.50,207.71 178.20,207.95 178.90,208.59 179.60,209.18 180.30,209.75 181.00,209.94 181.70,210.73 182.40,211.15 183.10,211.37 183.80,212.22 184.50,212.40 185.20,213.48 185.90,213.58 186.60,214.30 187.30,214.61 188.00,215.06 188.70,215.32 189.40,215.74 190.10,216.94 190.80,217.07 191.50,217.56 192.20,218.05 192.90,218.80 193.60,218.78 194.30,219.21 195.00,220.29 195.70,220.46 196.40,221.11 197.10,221.77 197.80,222.32 198.50,222.79 199.20,222.54 199.90,223.33 200.60,224.22 201.30,224.70 202.00,224.56 202.70,225.07 203.40,225.64 203.60,225.64 204.10,219.64 204.60,223.64 205.10,220.64 205.60,225.64 206.10,222.64 206.60,224.64 207.10,221.64 207.60,225.64 208.30,229.17 209.00,230.19 209.70,230.40 210.40,230.66 211.10,231.17 211.80,231.94 212.50,232.39 213.20,232.33 213.90,233.29 214.60,233.49 215.30,234.11" fill="none" stroke="#36d636" stroke-width="1.05" stroke-linejoin="round" />
<polyline points="17.20,315.05 17.90,318.17 18.60,318.83 19.30,315.86 20.00,311.86 20.70,306.40 21.40,302.31 22.10,298.64 22.80,295.19 23.50,292.47 24.20,291.99 24.90,295.50 25.60,300.66 26.30,304.45 27.00,308.32 27.70,310.54 28.40,313.05 29.10,314.26 29.80,315.19 30.50,315.73 31.20,315.99 31.90,316.05 32.60,316.30 33.30,316.57 34.00,317.15 34.70,316.67 35.40,316.88 36.10,317.43 36.80,316.99 37.50,316.81 38.20,316.75 38.90,317.16 39.60,316.88 40.30,317.39 41.00,317.22 41.70,317.21 42.40,316.45 43.10,316.18 43.80,316.07 44.50,316.31 45.20,316.37 45.90,316.01 46.60,315.68 47.30,315.71 48.00,315.76 48.70,315.67 49.40,315.59 50.10,315.54 50.80,315.23 51.50,314.59 52.20,315.08 52.90,314.44 53.60,314.53 54.30,314.20 55.00,314.37 55.70,313.72 56.40,313.60 57.10,313.43 57.80,313.17 58.50,313.66 59.20,313.21 59.90,312.80 60.60,312.68 61.30,313.03 62.00,312.41 62.70,311.96 63.40,312.28 64.10,311.93 64.80,312.01 65.50,310.99 66.20,311.09 66.90,311.15 67.60,310.92 68.30,310.72 69.00,309.66 69.70,309.61 70.40,309.16 71.10,308.92 71.80,309.30 72.50,308.63 73.20,308.60 73.90,307.75 74.60,307.84 75.30,307.11 76.00,306.57 76.70,306.67 77.40,306.44 78.10,305.30 78.80,305.36 79.50,305.00 80.20,304.25 80.90,304.00 81.60,303.41 82.30,303.08 83.00,302.74 83.70,302.66 84.40,302.32 85.10,301.52 85.80,300.95 86.50,300.84 87.20,300.75 87.90,299.89 88.60,299.60 89.30,299.08 90.00,299.19 90.70,298.53 91.40,297.65 92.10,297.23 92.80,297.02 93.50,296.67 94.20,296.23 94.90,295.18 95.60,294.65 96.30,294.49 97.00,293.56 97.70,292.74 98.40,292.03 99.10,291.89 99.80,290.62 100.50,290.19 101.20,289.35 101.90,288.75 102.60,288.49 103.30,287.94 104.00,286.69 104.70,285.83 105.40,285.59 106.10,284.39 106.80,283.47 107.50,283.52 108.20,282.32 108.90,281.88 109.60,280.69 110.30,280.28 111.00,279.00 111.70,277.78 112.40,276.68 113.10,276.20 113.80,275.36 114.50,274.70 115.20,273.07 115.90,272.68 116.60,271.59 117.30,270.85 118.00,269.67 118.70,268.93 119.40,268.29 120.10,267.79 120.80,266.19 121.50,265.67 122.20,265.08 122.90,264.36 123.60,262.79 124.30,261.84 125.00,261.67 125.70,260.79 126.40,259.42 127.10,258.10 127.80,257.95 128.50,256.53 129.20,256.06 129.90,254.87 130.60,254.13 131.30,252.61 132.00,252.27 132.70,250.88 133.40,250.19 134.10,249.77 134.80,248.95 135.50,247.60 136.20,246.91 136.90,246.39 137.60,245.89 138.30,245.21 139.00,244.47 139.70,244.11 140.40,244.09 141.10,243.83 141.80,242.67 142.50,242.79 143.20,242.65 143.90,241.72 144.60,242.20 145.30,241.35 146.00,241.64 146.70,241.50 147.40,241.51 148.10,241.22 148.80,241.35 149.50,241.58 150.20,241.55 150.90,241.92 151.60,241.92 152.30,242.15 153.00,242.03 153.70,242.86 154.40,243.07 155.10,243.20 155.80,244.06 156.50,244.49 157.20,244.64 157.90,244.85 158.60,245.60 159.30,245.78 160.00,246.33 160.70,247.16 161.40,247.44 162.10,248.39 162.80,249.12 163.50,249.40 164.20,250.66 164.90,250.90 165.60,252.23 166.30,253.01 167.00,253.51 167.70,253.81 168.40,254.91 169.10,255.46 169.80,256.64 170.50,256.57 171.20,257.87 171.90,258.64 172.60,259.03 173.30,259.72 174.00,259.74 174.70,261.01 175.40,261.08 176.10,261.93 176.80,262.26 177.50,261.90 178.20,262.78 178.90,263.26 179.60,262.87 180.30,263.55 181.00,264.36 181.70,264.27 182.40,265.40 183.10,265.30 183.80,266.25 184.50,266.11 185.20,266.90 185.90,267.74 186.60,267.56 187.30,268.07 188.00,268.74 188.70,269.02 189.40,269.21 190.10,269.77 190.80,270.18 191.50,271.29 192.20,271.46 192.90,272.06 193.60,271.80 194.30,272.74 195.00,272.52 195.70,273.28 196.40,273.76 197.10,273.89 197.80,274.73 198.50,274.84 199.20,275.38 199.90,274.53 200.60,272.30 201.30,276.41 202.00,276.82 202.70,276.37 203.40,277.82 204.10,278.49 204.80,279.78 205.50,279.92 206.20,280.20 206.90,281.01 207.60,281.16 208.30,281.36 209.00,282.29 209.70,282.09 210.40,283.20 211.10,283.11 211.80,283.87 212.50,284.60 213.20,284.65 213.90,285.13 214.60,285.23 215.30,285.37" fill="none" stroke="#22a2ee" stroke-width="1.15" stroke-linejoin="round" />
<polyline points="17.20,308.58 17.90,306.41 18.60,304.38 19.30,301.05 20.00,296.27 20.70,290.13 21.40,283.16 22.10,279.02 22.80,279.80 23.50,284.20 24.20,291.53 24.90,299.18 25.60,307.98 26.30,316.20 27.00,321.07 27.70,324.50 28.40,326.30 29.10,327.23 29.80,328.45 30.50,328.85 31.20,328.89 31.90,329.87 32.60,329.46 33.30,329.56 34.00,329.65 34.70,330.23 35.40,330.51 36.10,330.47 36.80,330.15 37.50,330.04 38.20,329.81 38.90,330.37 39.60,330.27 40.30,330.05 41.00,330.26 41.70,330.00 42.40,330.33 43.10,330.00 43.80,329.40 44.50,329.80 45.20,328.83 45.90,329.04 46.60,328.67 47.30,328.24 48.00,327.79 48.70,328.16 49.40,327.20 50.10,327.45 50.80,327.57 51.50,326.62 52.20,326.46 52.90,326.63 53.60,326.38 54.30,326.43 55.00,326.96 55.70,326.74 56.40,326.07 57.10,324.76 57.80,323.11 58.50,322.62 59.20,321.37 59.90,320.23 60.60,318.67 61.30,318.63 62.00,317.79 62.70,316.90 63.40,316.71 64.10,316.37 64.80,316.51 65.50,317.01 66.20,317.76 66.90,318.38 67.60,319.59 68.30,320.47 69.00,319.97 69.70,318.75 70.40,316.92 71.10,314.99 71.80,313.59 72.50,312.11 73.20,312.09 73.90,312.43 74.60,313.18 75.30,314.54 76.00,315.60 76.70,315.15 77.40,315.48 78.10,314.13 78.80,313.59 79.50,312.76 80.20,312.14 80.90,310.94 81.60,309.74 82.30,309.10 83.00,309.98 83.70,310.03 84.40,310.30 85.10,310.94 85.80,310.53 86.50,310.34 87.20,310.02 87.90,309.98 88.60,309.19 89.30,309.19 90.00,308.75 90.70,308.58 91.40,307.89 92.10,307.83 92.80,307.35 93.50,306.76 94.20,306.28 94.90,306.21 95.60,305.23 96.30,305.43 97.00,304.13 97.70,303.37 98.40,302.74 99.10,302.68 99.80,301.27 100.50,300.20 101.20,299.28 101.90,298.60 102.60,298.65 103.30,298.15 104.00,297.81 104.70,297.45 105.40,296.38 106.10,296.32 106.80,295.56 107.50,295.38 108.20,294.75 108.90,294.15 109.60,292.67 110.30,292.54 111.00,291.69 111.70,290.85 112.40,289.33 113.10,288.75 113.80,288.04 114.50,287.35 115.20,287.43 115.90,286.75 116.60,285.96 117.30,285.49 118.00,284.66 118.70,283.68 119.40,282.79 120.10,282.02 120.80,281.80 121.50,280.43 122.20,279.63 122.90,278.80 123.60,277.49 124.30,276.74 125.00,275.80 125.70,275.24 126.40,273.98 127.10,272.99 127.80,272.61 128.50,271.22 129.20,270.52 129.90,269.25 130.60,267.58 131.30,266.58 132.00,264.91 132.70,263.12 133.40,260.66 134.10,258.64 134.80,256.19 135.50,254.02 136.20,253.25 136.90,251.54 137.60,251.39 138.30,250.14 139.00,249.66 139.70,249.99 140.40,251.24 141.10,252.37 141.80,252.12 142.50,252.69 143.20,252.35 143.90,252.03 144.60,250.79 145.30,250.34 146.00,249.51 146.70,249.34 147.40,248.47 148.10,249.15 148.80,249.15 149.50,249.72 150.20,250.38 150.90,250.05 151.60,249.38 152.30,249.49 153.00,248.64 153.70,248.99 154.40,248.77 155.10,249.03 155.80,249.65 156.50,250.96 157.20,252.70 157.90,253.91 158.60,255.23 159.30,255.31 160.00,256.78 160.70,256.69 161.40,257.49 162.10,258.13 162.80,259.23 163.50,259.30 164.20,259.54 164.90,260.30 165.60,259.99 166.30,260.48 167.00,260.86 167.70,261.43 168.40,261.86 169.10,262.27 169.80,262.55 170.50,263.11 171.20,263.56 171.90,264.81 172.60,265.29 173.30,266.03 174.00,266.20 174.70,267.14 175.40,268.18 176.10,268.86 176.80,269.43 177.50,270.73 178.20,272.02 178.90,272.24 179.60,272.87 180.30,273.56 181.00,274.46 181.70,275.09 182.40,274.96 183.10,275.43 183.80,275.97 184.50,276.48 185.20,277.10 185.90,277.20 186.60,277.78 187.30,278.08 188.00,279.21 188.70,279.41 189.40,279.27 190.10,280.48 190.80,280.13 191.50,280.82 192.20,281.78 192.90,282.03 193.60,282.39 194.30,282.52 195.00,282.70 195.70,283.48 196.40,283.36 197.10,283.78 197.80,284.21 198.50,284.06 199.20,284.41 199.90,284.76 200.60,284.61 201.30,284.21 202.00,284.24 202.70,284.29 203.40,284.50 204.10,285.63 204.80,286.28 205.50,287.45 206.20,288.45 206.90,288.82 207.60,289.68 208.30,290.49 209.00,290.80 209.70,291.20 210.40,292.21 211.10,292.90 211.80,293.35 212.50,293.82 213.20,294.49 213.90,294.86 214.60,295.36 215.30,295.73" fill="none" stroke="#9c5cf0" stroke-width="1.05" stroke-linejoin="round" />
</g>
<rect x="17.0" y="185.4" width="198.6" height="145.99999999999997" fill="none" stroke="#1a1a1a" stroke-width="1.1"/>
<line x1="17.00" y1="186.00" x2="17.00" y2="330.80" stroke="#7a7a7a" stroke-width="1.25" />
<line x1="16.10" y1="188.40" x2="17.30" y2="188.40" stroke="#444" stroke-width="0.9" />
<line x1="16.10" y1="194.40" x2="17.30" y2="194.40" stroke="#444" stroke-width="0.9" />
<line x1="16.10" y1="200.40" x2="17.30" y2="200.40" stroke="#444" stroke-width="0.9" />
<line x1="16.10" y1="206.40" x2="17.30" y2="206.40" stroke="#444" stroke-width="0.9" />
<line x1="16.10" y1="212.40" x2="17.30" y2="212.40" stroke="#444" stroke-width="0.9" />
<line x1="16.10" y1="218.40" x2="17.30" y2="218.40" stroke="#444" stroke-width="0.9" />
<line x1="16.10" y1="224.40" x2="17.30" y2="224.40" stroke="#444" stroke-width="0.9" />
<line x1="16.10" y1="230.40" x2="17.30" y2="230.40" stroke="#444" stroke-width="0.9" />
<line x1="16.10" y1="236.40" x2="17.30" y2="236.40" stroke="#444" stroke-width="0.9" />
<line x1="16.10" y1="242.40" x2="17.30" y2="242.40" stroke="#444" stroke-width="0.9" />
<line x1="16.10" y1="248.40" x2="17.30" y2="248.40" stroke="#444" stroke-width="0.9" />
<line x1="16.10" y1="254.40" x2="17.30" y2="254.40" stroke="#444" stroke-width="0.9" />
<line x1="16.10" y1="260.40" x2="17.30" y2="260.40" stroke="#444" stroke-width="0.9" />
<line x1="16.10" y1="266.40" x2="17.30" y2="266.40" stroke="#444" stroke-width="0.9" />
<line x1="16.10" y1="272.40" x2="17.30" y2="272.40" stroke="#444" stroke-width="0.9" />
<line x1="16.10" y1="278.40" x2="17.30" y2="278.40" stroke="#444" stroke-width="0.9" />
<line x1="16.10" y1="284.40" x2="17.30" y2="284.40" stroke="#444" stroke-width="0.9" />
<line x1="16.10" y1="290.40" x2="17.30" y2="290.40" stroke="#444" stroke-width="0.9" />
<line x1="16.10" y1="296.40" x2="17.30" y2="296.40" stroke="#444" stroke-width="0.9" />
<line x1="16.10" y1="302.40" x2="17.30" y2="302.40" stroke="#444" stroke-width="0.9" />
<line x1="16.10" y1="308.40" x2="17.30" y2="308.40" stroke="#444" stroke-width="0.9" />
<line x1="16.10" y1="314.40" x2="17.30" y2="314.40" stroke="#444" stroke-width="0.9" />
<line x1="16.10" y1="320.40" x2="17.30" y2="320.40" stroke="#444" stroke-width="0.9" />
<line x1="16.10" y1="326.40" x2="17.30" y2="326.40" stroke="#444" stroke-width="0.9" />
<path d="M94.1,290.3 L98.6,290.3 L98.6,272.3 L102.7,272.3 L96.35,255.9 L90.0,272.3 L94.1,272.3 Z" fill="#d9e5f4" stroke="#5077c4" stroke-width="1.1" stroke-linejoin="miter"/>
<line x1="25.00" y1="193.60" x2="49.80" y2="193.60" stroke="#f04850" stroke-width="1.45" />
<line x1="25.00" y1="206.50" x2="49.80" y2="206.50" stroke="#f5893a" stroke-width="1.45" />
<line x1="25.00" y1="219.40" x2="49.80" y2="219.40" stroke="#ecb456" stroke-width="1.45" />
<line x1="25.00" y1="231.90" x2="49.80" y2="231.90" stroke="#e6dc50" stroke-width="1.45" />
<line x1="70.20" y1="194.80" x2="94.50" y2="194.80" stroke="#ade048" stroke-width="1.45" />
<line x1="70.20" y1="208.00" x2="94.50" y2="208.00" stroke="#36d636" stroke-width="1.6" />
<line x1="133.40" y1="302.70" x2="157.10" y2="302.70" stroke="#22a2ee" stroke-width="1.4" />
<text x="159.65" y="305.05" font-size="9.24" fill="#111" stroke="#111" stroke-width="0.3" font-weight="bold" textLength="44.88" lengthAdjust="spacingAndGlyphs" >reheated</text>
<line x1="96.80" y1="318.50" x2="122.00" y2="318.50" stroke="#9c5cf0" stroke-width="1.4" />
<text x="121.84" y="320.55" font-size="9.79" fill="#111" stroke="#111" stroke-width="0.3" font-weight="bold" textLength="81.54" lengthAdjust="spacingAndGlyphs" >before reheated</text>
<text x="51.12" y="198.05" font-size="9.79" fill="#111" stroke="#111" stroke-width="0.3" font-weight="bold" textLength="15.21" lengthAdjust="spacingAndGlyphs" >1 d</text>
<text x="51.39" y="210.05" font-size="9.38" fill="#111" stroke="#111" stroke-width="0.3" font-weight="bold" textLength="14.93" lengthAdjust="spacingAndGlyphs" >2 d</text>
<text x="51.49" y="222.05" font-size="9.24" fill="#111" stroke="#111" stroke-width="0.3" font-weight="bold" textLength="14.82" lengthAdjust="spacingAndGlyphs" >3 d</text>
<text x="51.44" y="234.15" font-size="9.66" fill="#111" stroke="#111" stroke-width="0.3" font-weight="bold" textLength="14.88" lengthAdjust="spacingAndGlyphs" >5 d</text>
<text x="96.23" y="198.35" font-size="9.93" fill="#111" stroke="#111" stroke-width="0.3" font-weight="bold" textLength="15.31" lengthAdjust="spacingAndGlyphs" >7 d</text>
<text x="96.00" y="210.55" font-size="9.66" fill="#111" stroke="#111" stroke-width="0.3" font-weight="bold" textLength="21.66" lengthAdjust="spacingAndGlyphs" >10 d</text>
<clipPath id="clipe"><rect x="247.2" y="184.6" width="198.2" height="146.1"/></clipPath>
<g clip-path="url(#clipe)">
<polyline points="247.00,230.40 248.00,230.45 249.00,230.49 250.00,230.54 251.00,230.58 252.00,230.63 253.00,230.67 254.00,230.72 255.00,230.76 256.00,230.81 257.00,230.86 258.00,230.90 259.00,230.95 260.00,231.00 261.00,231.05 262.00,231.10 263.00,231.15 264.00,231.20 265.00,231.25 266.00,231.30 267.00,231.35 268.00,231.41 269.00,231.47 270.00,231.53 271.00,231.60 272.00,231.67 273.00,231.74 274.00,231.82 275.00,231.90 276.00,231.98 277.00,232.07 278.00,232.17 279.00,232.27 280.00,232.40 281.00,232.55 282.00,232.76 283.00,233.05 284.00,233.40 285.00,233.81 286.00,234.30 287.00,234.79 288.00,235.20 289.00,235.56 290.00,235.87 291.00,236.07 292.00,236.20 293.00,236.30 294.00,236.37 295.00,236.39 296.00,236.40 297.00,236.40 298.00,236.40 299.00,236.40 300.00,236.40 301.00,236.40 302.00,236.39 303.00,236.39 304.00,236.39 305.00,236.39 306.00,236.38 307.00,236.38 308.00,236.38 309.00,236.37 310.00,236.37 311.00,236.36 312.00,236.35 313.00,236.35 314.00,236.34 315.00,236.33 316.00,236.32 317.00,236.31 318.00,236.30 319.00,236.29 320.00,236.28 321.00,236.27 322.00,236.26 323.00,236.24 324.00,236.23 325.00,236.21 326.00,236.19 327.00,236.17 328.00,236.15 329.00,236.12 330.00,236.10 331.00,236.07 332.00,236.04 333.00,236.01 334.00,235.98 335.00,235.94 336.00,235.90 337.00,235.86 338.00,235.82 339.00,235.78 340.00,235.74 341.00,235.70 342.00,235.65 343.00,235.61 344.00,235.56 345.00,235.51 346.00,235.46 347.00,235.42 348.00,235.37 349.00,235.32 350.00,235.27 351.00,235.22 352.00,235.17 353.00,235.12 354.00,235.08 355.00,235.03 356.00,234.98 357.00,234.93 358.00,234.89 359.00,234.84 360.00,234.80 361.00,234.76 362.00,234.71 363.00,234.67 364.00,234.63 365.00,234.58 366.00,234.54 367.00,234.49 368.00,234.45 369.00,234.40 370.00,234.36 371.00,234.31 372.00,234.27 373.00,234.23 374.00,234.18 375.00,234.14 376.00,234.09 377.00,234.05 378.00,234.01 379.00,233.96 380.00,233.92 381.00,233.88 382.00,233.83 383.00,233.79 384.00,233.75 385.00,233.71 386.00,233.66 387.00,233.62 388.00,233.58 389.00,233.54 390.00,233.50 391.00,233.46 392.00,233.42 393.00,233.38 394.00,233.34 395.00,233.30 396.00,233.27 397.00,233.23 398.00,233.19 399.00,233.15 400.00,233.11 401.00,233.08 402.00,233.04 403.00,233.00 404.00,232.97 405.00,232.93 406.00,232.89 407.00,232.86 408.00,232.82 409.00,232.78 410.00,232.75 411.00,232.71 412.00,232.68 413.00,232.64 414.00,232.61 415.00,232.57 416.00,232.54 417.00,232.50 418.00,232.47 419.00,232.43 420.00,232.40 421.00,232.37 422.00,232.33 423.00,232.30 424.00,232.27 425.00,232.23 426.00,232.20 427.00,232.17 428.00,232.14 429.00,232.11 430.00,232.07 431.00,232.04 432.00,232.01 433.00,231.98 434.00,231.95 435.00,231.92 436.00,231.89 437.00,231.86 438.00,231.83 439.00,231.80 440.00,231.77 441.00,231.74 442.00,231.70 443.00,231.67 444.00,231.64 445.00,231.61" fill="none" stroke="#c23a4c" stroke-width="1.15" stroke-linejoin="round" />
<polyline points="247.00,245.60 247.50,245.68 248.00,245.76 248.50,245.84 249.00,245.92 249.50,246.00 250.00,246.09 250.50,246.17 251.00,246.25 251.50,246.33 252.00,246.41 252.50,246.49 253.00,246.57 253.50,246.65 254.00,246.73 254.50,246.80 255.00,246.88 255.50,246.96 256.00,247.03 256.50,247.11 257.00,247.18 257.50,247.25 258.00,247.32 258.50,247.39 259.00,247.46 259.50,247.53 260.00,247.60 260.50,247.67 261.00,247.73 261.50,247.80 262.00,247.86 262.50,247.93 263.00,248.00 263.50,248.06 264.00,248.12 264.50,248.19 265.00,248.25 265.50,248.32 266.00,248.38 266.50,248.44 267.00,248.51 267.50,248.57 268.00,248.63 268.50,248.69 269.00,248.76 269.50,248.82 270.00,248.88 270.50,248.94 271.00,249.00 271.50,249.06 272.00,249.12 272.50,249.18 273.00,249.24 273.50,249.29 274.00,249.35 274.50,249.41 275.00,249.47 275.50,249.52 276.00,249.58 276.50,249.63 277.00,249.69 277.50,249.74 278.00,249.79 278.50,249.85 279.00,249.90 279.50,249.95 280.00,250.00 280.50,250.05 281.00,250.10 281.50,250.15 282.00,250.19 282.50,250.24 283.00,250.29 283.50,250.33 284.00,250.38 284.50,250.42 285.00,250.47 285.50,250.51 286.00,250.55 286.50,250.59 287.00,250.63 287.50,250.68 288.00,250.72 288.50,250.76 289.00,250.80 289.50,250.84 290.00,250.88 290.50,250.91 291.00,250.95 291.50,250.99 292.00,251.03 292.50,251.06 293.00,251.10 293.50,251.14 294.00,251.17 294.50,251.21 295.00,251.25 295.50,251.28 296.00,251.32 296.50,251.35 297.00,251.39 297.50,251.42 298.00,251.46 298.50,251.49 299.00,251.53 299.50,251.56 300.00,251.60 300.50,251.63 301.00,251.67 301.50,251.70 302.00,251.74 302.50,251.77 303.00,251.80 303.50,251.84 304.00,251.87 304.50,251.90 305.00,251.93 305.50,251.96 306.00,251.99 306.50,252.03 307.00,252.06 307.50,252.09 308.00,252.12 308.50,252.15 309.00,252.18 309.50,252.21 310.00,252.24 310.50,252.27 311.00,252.30 311.50,252.33 312.00,252.35 312.50,252.38 313.00,252.41 313.50,252.44 314.00,252.47 314.50,252.50 315.00,252.52 315.50,252.55 316.00,252.58 316.50,252.61 317.00,252.64 317.50,252.66 318.00,252.69 318.50,252.72 319.00,252.75 319.50,252.77 320.00,252.80 320.50,252.82 321.00,252.85 321.50,252.87 322.00,252.89 322.50,252.90 323.00,252.92 323.50,252.93 324.00,252.94 324.50,252.95 325.00,252.96 325.50,252.96 326.00,252.97 326.50,252.98 327.00,252.99 327.50,252.99 328.00,253.00 328.50,253.01 329.00,253.02 329.50,253.04 330.00,253.05 330.50,253.07 331.00,253.10 331.50,253.12 332.00,253.15 332.50,253.19 333.00,253.24 333.50,253.29 334.00,253.35 334.50,253.42 335.00,253.50 335.50,253.61 336.00,253.71 336.50,253.85 337.00,254.00 337.50,254.18 338.00,254.37 338.50,254.57 339.00,254.80 339.50,255.04 340.00,255.29 340.50,255.54 341.00,255.80 341.50,256.06 342.00,256.31 342.50,256.54 343.00,256.75 343.50,256.93 344.00,257.08 344.50,257.21 345.00,257.31 345.50,257.39 346.00,257.46 346.50,257.51 347.00,257.56 347.50,257.60 348.00,257.64 348.50,257.69 349.00,257.77 349.50,257.87 350.00,258.00 350.50,258.16 351.00,258.33 351.50,258.52 352.00,258.73 352.50,258.95 353.00,259.20 353.50,259.47 354.00,259.77 354.50,260.12 355.00,260.50 355.50,260.97 356.00,261.53 356.50,262.18 357.00,262.89 357.50,263.63 358.00,264.35 358.50,265.00 359.00,265.62 359.50,266.26 360.00,266.86 360.50,267.32 361.00,267.50 361.50,267.34 362.00,266.85 362.50,266.04 363.00,265.00 363.50,263.55 364.00,261.72 364.50,259.90 365.00,258.50 365.50,257.33 366.00,256.83 366.50,256.64 367.00,256.50 367.50,256.38 368.00,256.28 368.50,256.20 369.00,256.14 369.50,256.10 370.00,256.08 370.50,256.06 371.00,256.04 371.50,256.03 372.00,256.02 372.50,256.02 373.00,256.01 373.50,256.01 374.00,256.00 374.50,256.00 375.00,256.00 375.50,256.00 376.00,256.00 376.50,256.00 377.00,256.00 377.50,256.01 378.00,256.01 378.50,256.01 379.00,256.02 379.50,256.02 380.00,256.03 380.50,256.03 381.00,256.04 381.50,256.05 382.00,256.05 382.50,256.06 383.00,256.07 383.50,256.07 384.00,256.08 384.50,256.09 385.00,256.10 385.50,256.11 386.00,256.11 386.50,256.12 387.00,256.13 387.50,256.14 388.00,256.15 388.50,256.16 389.00,256.17 389.50,256.17 390.00,256.18 390.50,256.19 391.00,256.20 391.50,256.21 392.00,256.22 392.50,256.23 393.00,256.24 393.50,256.25 394.00,256.26 394.50,256.27 395.00,256.29 395.50,256.30 396.00,256.31 396.50,256.32 397.00,256.33 397.50,256.34 398.00,256.35 398.50,256.36 399.00,256.38 399.50,256.39 400.00,256.40 400.50,256.41 401.00,256.43 401.50,256.44 402.00,256.45 402.50,256.47 403.00,256.48 403.50,256.49 404.00,256.51 404.50,256.52 405.00,256.54 405.50,256.55 406.00,256.57 406.50,256.58 407.00,256.60 407.50,256.62 408.00,256.64 408.50,256.65 409.00,256.67 409.50,256.69 410.00,256.71 410.50,256.74 411.00,256.76 411.50,256.78 412.00,256.81 412.50,256.83 413.00,256.86 413.50,256.89 414.00,256.93 414.50,256.96 415.00,257.00 415.50,257.05 416.00,257.10 416.50,257.16 417.00,257.23 417.50,257.32 418.00,257.44 418.50,257.57 419.00,257.73 419.50,257.88 420.00,258.00 420.50,258.12 421.00,258.25 421.50,258.40 422.00,258.54 422.50,258.65 423.00,258.71 423.50,258.68 424.00,258.50 424.50,258.13 425.00,257.74 425.50,257.47 426.00,257.30 426.50,257.18 427.00,257.06 427.50,256.95 428.00,256.86 428.50,256.79 429.00,256.72 429.50,256.67 430.00,256.62 430.50,256.58 431.00,256.55 431.50,256.52 432.00,256.50 432.50,256.48 433.00,256.47 433.50,256.46 434.00,256.45 434.50,256.45 435.00,256.44 435.50,256.44 436.00,256.44 436.50,256.44 437.00,256.44 437.50,256.44 438.00,256.44 438.50,256.45 439.00,256.45 439.50,256.45 440.00,256.46 440.50,256.46 441.00,256.46 441.50,256.47 442.00,256.47 442.50,256.48 443.00,256.48 443.50,256.49 444.00,256.49 444.50,256.50 445.00,256.50" fill="none" stroke="#3a7cc4" stroke-width="1.15" stroke-linejoin="round" />
<polyline points="247.00,263.80 247.30,263.83 247.60,263.87 247.90,263.90 248.20,263.93 248.50,263.96 248.80,264.00 249.10,264.03 249.40,264.06 249.70,264.09 250.00,264.13 250.30,264.16 250.60,264.19 250.90,264.23 251.20,264.26 251.50,264.29 251.80,264.32 252.10,264.36 252.40,264.39 252.70,264.42 253.00,264.46 253.30,264.49 253.60,264.52 253.90,264.55 254.20,264.59 254.50,264.62 254.80,264.65 255.10,264.68 255.40,264.72 255.70,264.75 256.00,264.78 256.30,264.82 256.60,264.85 256.90,264.88 257.20,264.91 257.50,264.95 257.80,264.98 258.10,265.01 258.40,265.04 258.70,265.08 259.00,265.11 259.30,265.15 259.60,265.18 259.90,265.22 260.20,265.25 260.50,265.29 260.80,265.33 261.10,265.36 261.40,265.40 261.70,265.44 262.00,265.48 262.30,265.51 262.60,265.55 262.90,265.59 263.20,265.62 263.50,265.66 263.80,265.69 264.10,265.73 264.40,265.76 264.70,265.80 265.00,265.83 265.30,265.86 265.60,265.89 265.90,265.93 266.20,265.96 266.50,265.99 266.80,266.02 267.10,266.05 267.40,266.08 267.70,266.10 268.00,266.13 268.30,266.16 268.60,266.18 268.90,266.21 269.20,266.23 269.50,266.26 269.80,266.28 270.10,266.31 270.40,266.33 270.70,266.35 271.00,266.38 271.30,266.40 271.60,266.42 271.90,266.44 272.20,266.47 272.50,266.49 272.80,266.51 273.10,266.53 273.40,266.55 273.70,266.57 274.00,266.59 274.30,266.61 274.60,266.63 274.90,266.65 275.20,266.67 275.50,266.69 275.80,266.71 276.10,266.74 276.40,266.75 276.70,266.77 277.00,266.79 277.30,266.81 277.60,266.83 277.90,266.85 278.20,266.87 278.50,266.89 278.80,266.91 279.10,266.93 279.40,266.94 279.70,266.96 280.00,266.98 280.30,267.00 280.60,267.02 280.90,267.03 281.20,267.05 281.50,267.07 281.80,267.09 282.10,267.10 282.40,267.12 282.70,267.14 283.00,267.15 283.30,267.17 283.60,267.19 283.90,267.20 284.20,267.22 284.50,267.23 284.80,267.25 285.10,267.27 285.40,267.28 285.70,267.30 286.00,267.31 286.30,267.33 286.60,267.34 286.90,267.36 287.20,267.37 287.50,267.39 287.80,267.40 288.10,267.41 288.40,267.43 288.70,267.44 289.00,267.46 289.30,267.47 289.60,267.48 289.90,267.50 290.20,267.51 290.50,267.52 290.80,267.53 291.10,267.54 291.40,267.55 291.70,267.57 292.00,267.58 292.30,267.59 292.60,267.60 292.90,267.61 293.20,267.62 293.50,267.63 293.80,267.63 294.10,267.64 294.40,267.65 294.70,267.66 295.00,267.67 295.30,267.67 295.60,267.68 295.90,267.69 296.20,267.70 296.50,267.70 296.80,267.71 297.10,267.72 297.40,267.72 297.70,267.73 298.00,267.74 298.30,267.74 298.60,267.75 298.90,267.75 299.20,267.76 299.50,267.77 299.80,267.77 300.10,267.78 300.40,267.78 300.70,267.79 301.00,267.79 301.30,267.80 301.60,267.80 301.90,267.81 302.20,267.82 302.50,267.82 302.80,267.83 303.10,267.83 303.40,267.84 303.70,267.84 304.00,267.85 304.30,267.86 304.60,267.86 304.90,267.87 305.20,267.87 305.50,267.88 305.80,267.89 306.10,267.89 306.40,267.90 306.70,267.91 307.00,267.92 307.30,267.92 307.60,267.93 307.90,267.94 308.20,267.95 308.50,267.96 308.80,267.96 309.10,267.97 309.40,267.98 309.70,267.99 310.00,268.00 310.30,268.01 310.60,268.02 310.90,268.03 311.20,268.04 311.50,268.05 311.80,268.06 312.10,268.07 312.40,268.08 312.70,268.09 313.00,268.10 313.30,268.11 313.60,268.12 313.90,268.13 314.20,268.14 314.50,268.15 314.80,268.16 315.10,268.17 315.40,268.18 315.70,268.19 316.00,268.20 316.30,268.21 316.60,268.22 316.90,268.23 317.20,268.24 317.50,268.25 317.80,268.26 318.10,268.27 318.40,268.28 318.70,268.29 319.00,268.30 319.30,268.31 319.60,268.32 319.90,268.33 320.20,268.34 320.50,268.35 320.80,268.36 321.10,268.37 321.40,268.39 321.70,268.40 322.00,268.41 322.30,268.42 322.60,268.43 322.90,268.44 323.20,268.46 323.50,268.47 323.80,268.48 324.10,268.49 324.40,268.51 324.70,268.52 325.00,268.53 325.30,268.55 325.60,268.56 325.90,268.57 326.20,268.59 326.50,268.60 326.80,268.62 327.10,268.63 327.40,268.65 327.70,268.66 328.00,268.68 328.30,268.70 328.60,268.71 328.90,268.73 329.20,268.75 329.50,268.77 329.80,268.79 330.10,268.81 330.40,268.83 330.70,268.85 331.00,268.87 331.30,268.89 331.60,268.90 331.90,268.92 332.20,268.94 332.50,268.96 332.80,268.98 333.10,269.00 333.40,269.02 333.70,269.05 334.00,269.07 334.30,269.09 334.60,269.11 334.90,269.14 335.20,269.16 335.50,269.19 335.80,269.22 336.10,269.25 336.40,269.28 336.70,269.32 337.00,269.36 337.30,269.40 337.60,269.45 337.90,269.50 338.20,269.55 338.50,269.61 338.80,269.68 339.10,269.75 339.40,269.83 339.70,269.91 340.00,270.00 340.30,270.11 340.60,270.22 340.90,270.36 341.20,270.50 341.50,270.67 341.80,270.86 342.10,271.06 342.40,271.28 342.70,271.52 343.00,271.77 343.30,272.04 343.60,272.32 343.90,272.60 344.20,272.87 344.50,273.13 344.80,273.36 345.10,273.57 345.40,273.76 345.70,273.96 346.00,274.16 346.30,274.36 346.60,274.54 346.90,274.71 347.20,274.87 347.50,275.00 347.80,275.13 348.10,275.23 348.40,275.31 348.70,275.36 349.00,275.39 349.30,275.42 349.60,275.43 349.90,275.45 350.20,275.47 350.50,275.50 350.80,275.55 351.10,275.61 351.40,275.70 351.70,275.83 352.00,276.00 352.30,276.21 352.60,276.44 352.90,276.70 353.20,276.98 353.50,277.32 353.80,277.70 354.10,278.15 354.40,278.68 354.70,279.29 355.00,280.00 355.30,280.84 355.60,281.79 355.90,282.86 356.20,284.04 356.50,285.31 356.80,286.66 357.10,288.06 357.40,289.51 357.70,291.02 358.00,292.70 358.30,294.53 358.60,296.45 358.90,298.38 359.20,300.26 359.50,302.00 359.80,303.65 360.10,305.29 360.40,306.89 360.70,308.44 361.00,309.89 361.30,311.22 361.60,312.35 361.90,313.33 362.20,314.10 362.50,314.60 362.80,314.76 363.10,314.63 363.40,314.32 363.70,313.76 364.00,312.83 364.30,311.34 364.60,309.16 364.90,306.07 365.20,302.30 365.50,298.27 365.80,294.36 366.10,290.89 366.40,287.49 366.70,284.14 367.00,281.04 367.30,278.41 367.60,276.42 367.90,275.05 368.20,274.31 368.50,273.95 368.80,273.69 369.10,273.38 369.40,272.87 369.70,272.73 370.00,272.68 370.30,272.64 370.60,272.61 370.90,272.58 371.20,272.56 371.50,272.54 371.80,272.51 372.10,272.49 372.40,272.47 372.70,272.46 373.00,272.44 373.30,272.42 373.60,272.41 373.90,272.39 374.20,272.38 374.50,272.36 374.80,272.35 375.10,272.34 375.40,272.32 375.70,272.31 376.00,272.30 376.30,272.29 376.60,272.28 376.90,272.27 377.20,272.26 377.50,272.25 377.80,272.24 378.10,272.23 378.40,272.22 378.70,272.21 379.00,272.20 379.30,272.19 379.60,272.18 379.90,272.18 380.20,272.17 380.50,272.16 380.80,272.15 381.10,272.15 381.40,272.14 381.70,272.13 382.00,272.12 382.30,272.12 382.60,272.11 382.90,272.10 383.20,272.10 383.50,272.09 383.80,272.09 384.10,272.08 384.40,272.08 384.70,272.07 385.00,272.06 385.30,272.06 385.60,272.05 385.90,272.05 386.20,272.05 386.50,272.04 386.80,272.04 387.10,272.03 387.40,272.03 387.70,272.02 388.00,272.02 388.30,272.02 388.60,272.01 388.90,272.01 389.20,272.01 389.50,272.00 389.80,272.00 390.10,272.00 390.40,272.00 390.70,272.00 391.00,271.99 391.30,271.99 391.60,271.99 391.90,271.99 392.20,271.99 392.50,271.99 392.80,271.99 393.10,271.99 393.40,271.99 393.70,271.99 394.00,271.99 394.30,271.99 394.60,271.99 394.90,271.99 395.20,271.99 395.50,271.99 395.80,271.99 396.10,271.99 396.40,271.99 396.70,271.99 397.00,271.99 397.30,271.99 397.60,272.00 397.90,272.00 398.20,272.00 398.50,272.00 398.80,272.00 399.10,272.01 399.40,272.01 399.70,272.01 400.00,272.01 400.30,272.02 400.60,272.02 400.90,272.02 401.20,272.03 401.50,272.03 401.80,272.03 402.10,272.04 402.40,272.04 402.70,272.04 403.00,272.05 403.30,272.05 403.60,272.06 403.90,272.06 404.20,272.07 404.50,272.07 404.80,272.08 405.10,272.08 405.40,272.09 405.70,272.09 406.00,272.10 406.30,272.10 406.60,272.11 406.90,272.12 407.20,272.12 407.50,272.13 407.80,272.14 408.10,272.14 408.40,272.15 408.70,272.16 409.00,272.17 409.30,272.18 409.60,272.19 409.90,272.20 410.20,272.21 410.50,272.22 410.80,272.23 411.10,272.24 411.40,272.25 411.70,272.26 412.00,272.28 412.30,272.29 412.60,272.30 412.90,272.32 413.20,272.33 413.50,272.35 413.80,272.36 414.10,272.38 414.40,272.40 414.70,272.42 415.00,272.44 415.30,272.46 415.60,272.49 415.90,272.52 416.20,272.54 416.50,272.58 416.80,272.61 417.10,272.65 417.40,272.69 417.70,272.74 418.00,272.79 418.30,272.85 418.60,272.91 418.90,272.98 419.20,273.05 419.50,273.13 419.80,273.22 420.10,273.33 420.40,273.47 420.70,273.68 421.00,274.06 421.30,274.62 421.60,275.23 421.90,276.14 422.20,277.41 422.50,278.82 422.80,280.05 423.10,280.71 423.40,280.69 423.70,280.06 424.00,279.02 424.30,277.89 424.60,276.91 424.90,276.19 425.20,275.67 425.50,275.18 425.80,274.73 426.10,274.33 426.40,273.99 426.70,273.72 427.00,273.50 427.30,273.32 427.60,273.16 427.90,273.04 428.20,272.94 428.50,272.85 428.80,272.78 429.10,272.72 429.40,272.67 429.70,272.63 430.00,272.59 430.30,272.56 430.60,272.54 430.90,272.52 431.20,272.51 431.50,272.49 431.80,272.48 432.10,272.47 432.40,272.46 432.70,272.46 433.00,272.45 433.30,272.44 433.60,272.44 433.90,272.43 434.20,272.42 434.50,272.41 434.80,272.41 435.10,272.40 435.40,272.39 435.70,272.38 436.00,272.38 436.30,272.37 436.60,272.37 436.90,272.36 437.20,272.36 437.50,272.36 437.80,272.36 438.10,272.36 438.40,272.36 438.70,272.36 439.00,272.36 439.30,272.36 439.60,272.36 439.90,272.36 440.20,272.36 440.50,272.36 440.80,272.36 441.10,272.37 441.40,272.37 441.70,272.37 442.00,272.37 442.30,272.38 442.60,272.38 442.90,272.38 443.20,272.38 443.50,272.39 443.80,272.39 444.10,272.39 444.40,272.39 444.70,272.40 445.00,272.40 445.30,272.40" fill="none" stroke="#f7941e" stroke-width="1.15" stroke-linejoin="round" />
</g>
<line x1="261.00" y1="197.40" x2="286.60" y2="197.40" stroke="#c23a4c" stroke-width="1.5" />
<line x1="261.00" y1="210.80" x2="286.60" y2="210.80" stroke="#3a7cc4" stroke-width="1.5" />
<line x1="261.00" y1="224.50" x2="286.60" y2="224.50" stroke="#f7941e" stroke-width="1.5" />
<line x1="242.50" y1="330.00" x2="242.50" y2="300.00" stroke="#1a1a1a" stroke-width="1.1" />
<path d="M242.5,293.8 L245.2,302.2 L239.8,302.2 Z" fill="#111"/>
<rect x="481.2" y="289.0" width="198.90000000000003" height="43.40" fill="#fef3f0"/>
<path d="M481.40,274.20 L481.90,274.68 L482.40,275.18 L482.90,275.66 L483.40,276.14 L483.90,276.60 L484.40,277.03 L484.90,277.42 L485.40,277.76 L485.90,278.03 L486.40,278.26 L486.90,278.47 L487.40,278.70 L487.90,278.95 L488.40,279.26 L488.90,279.62 L489.40,280.05 L489.90,280.52 L490.40,281.03 L490.90,281.56 L491.40,282.09 L491.90,282.63 L492.40,283.17 L492.90,283.70 L493.40,284.21 L493.90,284.69 L494.40,285.12 L494.90,285.48 L495.40,285.78 L495.90,286.01 L496.40,286.16 L496.90,286.27 L497.40,286.36 L497.90,286.48 L498.40,286.61 L498.90,286.75 L499.40,286.90 L499.90,287.03 L500.40,287.16 L500.90,287.27 L501.40,287.35 L501.90,287.41 L502.40,287.42 L502.90,287.37 L503.40,287.26 L503.90,287.09 L504.40,286.85 L504.90,286.53 L505.40,286.12 L505.90,285.61 L506.40,284.99 L506.90,284.20 L507.40,283.17 L507.90,281.87 L508.40,280.38 L508.90,278.65 L509.40,276.74 L509.90,274.67 L510.40,272.46 L510.90,269.82 L511.40,266.51 L511.90,263.63 L512.40,261.68 L512.90,260.24 L513.40,259.04 L513.90,257.98 L514.40,257.01 L514.90,256.08 L515.40,255.18 L515.90,254.34 L516.40,253.61 L516.90,252.96 L517.40,252.33 L517.90,251.68 L518.40,250.98 L518.90,250.13 L519.40,248.99 L519.90,247.36 L520.40,245.09 L520.90,242.49 L521.40,239.84 L521.90,236.80 L522.40,234.38 L522.90,232.67 L523.40,231.27 L523.90,230.17 L524.40,229.36 L524.90,228.81 L525.40,228.48 L525.90,228.30 L526.40,228.23 L526.90,228.20 L527.40,228.20 L527.90,228.20 L528.40,228.19 L528.90,228.20 L529.40,228.22 L529.90,228.25 L530.40,228.30 L530.90,228.36 L531.40,228.44 L531.90,228.54 L532.40,228.65 L532.90,228.77 L533.40,228.92 L533.90,229.08 L534.40,229.25 L534.90,229.43 L535.40,229.62 L535.90,229.82 L536.40,230.02 L536.90,230.22 L537.40,230.43 L537.90,230.63 L538.40,230.84 L538.90,231.05 L539.40,231.26 L539.90,231.46 L540.40,231.66 L540.90,231.86 L541.40,232.06 L541.90,232.26 L542.40,232.46 L542.90,232.67 L543.40,232.87 L543.90,233.08 L544.40,233.29 L544.90,233.50 L545.40,233.72 L545.90,233.94 L546.40,234.16 L546.90,234.39 L547.40,234.63 L547.90,234.88 L548.40,235.14 L548.90,235.40 L549.40,235.66 L549.90,235.92 L550.40,236.19 L550.90,236.45 L551.40,236.71 L551.90,236.97 L552.40,237.21 L552.90,237.45 L553.40,237.69 L553.90,237.93 L554.40,238.18 L554.90,238.42 L555.40,238.67 L555.90,238.91 L556.40,239.14 L556.90,239.37 L557.40,239.59 L557.90,239.81 L558.40,240.01 L558.90,240.20 L559.40,240.38 L559.90,240.54 L560.40,240.70 L560.90,240.84 L561.40,240.96 L561.90,241.07 L562.40,241.17 L562.90,241.27 L563.40,241.36 L563.90,241.44 L564.40,241.52 L564.90,241.59 L565.40,241.67 L565.90,241.74 L566.40,241.82 L566.90,241.90 L567.40,241.98 L567.90,242.07 L568.40,242.16 L568.90,242.26 L569.40,242.36 L569.90,242.48 L570.40,242.60 L570.90,242.73 L571.40,242.87 L571.90,243.01 L572.40,243.15 L572.90,243.30 L573.40,243.45 L573.90,243.60 L574.40,243.76 L574.90,243.92 L575.40,244.07 L575.90,244.23 L576.40,244.39 L576.90,244.55 L577.40,244.71 L577.90,244.87 L578.40,245.02 L578.90,245.17 L579.40,245.32 L579.90,245.47 L580.40,245.62 L580.90,245.77 L581.40,245.93 L581.90,246.08 L582.40,246.24 L582.90,246.41 L583.40,246.57 L583.90,246.73 L584.40,246.89 L584.90,247.05 L585.40,247.21 L585.90,247.37 L586.40,247.53 L586.90,247.68 L587.40,247.83 L587.90,247.98 L588.40,248.12 L588.90,248.25 L589.40,248.38 L589.90,248.50 L590.40,248.62 L590.90,248.72 L591.40,248.81 L591.90,248.88 L592.40,248.94 L592.90,248.98 L593.40,249.00 L593.90,249.00 L594.40,248.98 L594.90,248.94 L595.40,248.88 L595.90,248.80 L596.40,248.71 L596.90,248.61 L597.40,248.50 L597.90,248.39 L598.40,248.28 L598.90,248.18 L599.40,248.09 L599.90,248.02 L600.40,247.93 L600.90,247.84 L601.40,247.73 L601.90,247.61 L602.40,247.48 L602.90,247.34 L603.40,247.21 L603.90,247.08 L604.40,246.95 L604.90,246.84 L605.40,246.74 L605.90,246.66 L606.40,246.60 L606.90,246.58 L607.40,246.58 L607.90,246.62 L608.40,246.70 L608.90,246.84 L609.40,247.01 L609.90,247.21 L610.40,247.45 L610.90,247.72 L611.40,248.03 L611.90,248.37 L612.40,248.72 L612.90,249.09 L613.40,249.47 L613.90,249.87 L614.40,250.26 L614.90,250.65 L615.40,251.04 L615.90,251.42 L616.40,251.81 L616.90,252.20 L617.40,252.61 L617.90,253.03 L618.40,253.46 L618.90,253.89 L619.40,254.33 L619.90,254.78 L620.40,255.22 L620.90,255.66 L621.40,256.11 L621.90,256.55 L622.40,256.98 L622.90,257.40 L623.40,257.82 L623.90,258.23 L624.40,258.62 L624.90,259.00 L625.40,259.36 L625.90,259.71 L626.40,260.05 L626.90,260.39 L627.40,260.71 L627.90,261.02 L628.40,261.33 L628.90,261.63 L629.40,261.93 L629.90,262.22 L630.40,262.51 L630.90,262.80 L631.40,263.08 L631.90,263.37 L632.40,263.65 L632.90,263.94 L633.40,264.23 L633.90,264.52 L634.40,264.80 L634.90,265.07 L635.40,265.35 L635.90,265.62 L636.40,265.89 L636.90,266.16 L637.40,266.43 L637.90,266.70 L638.40,266.96 L638.90,267.23 L639.40,267.50 L639.90,267.77 L640.40,268.05 L640.90,268.32 L641.40,268.60 L641.90,268.88 L642.40,269.17 L642.90,269.45 L643.40,269.74 L643.90,270.02 L644.40,270.31 L644.90,270.60 L645.40,270.89 L645.90,271.19 L646.40,271.48 L646.90,271.77 L647.40,272.06 L647.90,272.36 L648.40,272.65 L648.90,272.94 L649.40,273.24 L649.90,273.54 L650.40,273.85 L650.90,274.16 L651.40,274.47 L651.90,274.78 L652.40,275.10 L652.90,275.41 L653.40,275.72 L653.90,276.03 L654.40,276.33 L654.90,276.63 L655.40,276.93 L655.90,277.21 L656.40,277.49 L656.90,277.75 L657.40,278.00 L657.90,278.25 L658.40,278.47 L658.90,278.69 L659.40,278.89 L659.90,279.09 L660.40,279.27 L660.90,279.44 L661.40,279.61 L661.90,279.77 L662.40,279.93 L662.90,280.08 L663.40,280.23 L663.90,280.38 L664.40,280.52 L664.90,280.67 L665.40,280.82 L665.90,280.97 L666.40,281.12 L666.90,281.27 L667.40,281.42 L667.90,281.56 L668.40,281.70 L668.90,281.84 L669.40,281.98 L669.90,282.12 L670.40,282.25 L670.90,282.39 L671.40,282.52 L671.90,282.66 L672.40,282.79 L672.90,282.93 L673.40,283.06 L673.90,283.20 L674.40,283.34 L674.90,283.47 L675.40,283.61 L675.90,283.76 L676.40,283.91 L676.90,284.07 L677.40,284.25 L677.90,284.46" fill="none" stroke="#edf6f7" stroke-width="11" stroke-linejoin="round" stroke-linecap="round"/>
<line x1="481.20" y1="289.00" x2="677.30" y2="289.00" stroke="#e4603e" stroke-width="1.35" />
<polyline points="481.40,236.02 481.90,236.52 482.40,236.49 482.90,236.84 483.40,237.44 483.90,237.45 484.40,237.76 484.90,237.99 485.40,238.62 485.90,238.46 486.40,239.07 486.90,239.49 487.40,239.38 487.90,239.80 488.40,240.30 488.90,240.48 489.40,240.61 489.90,240.70 490.40,241.22 490.90,241.46 491.40,241.95 491.90,242.00 492.40,242.36 492.90,242.81 493.40,243.23 493.90,243.27 494.40,243.63 494.90,244.09 495.40,244.65 495.90,244.56 496.40,245.39 496.90,245.60 497.40,245.78 497.90,246.35 498.40,246.56 498.90,246.84 499.40,247.72 499.90,248.00 500.40,248.65 500.90,249.25 501.40,250.20 501.90,250.91 502.40,251.35 502.90,252.65 503.40,253.58 503.90,254.59 504.40,255.87 504.90,256.72 505.40,257.92 505.90,259.36 506.40,260.32 506.90,261.62 507.40,262.94 507.90,264.56 508.40,266.02 508.90,267.67 509.40,269.04 509.90,270.32 510.40,272.20 510.90,273.59 511.40,275.16 511.90,276.56 512.40,277.56 512.90,279.01 513.40,280.30 513.90,282.09 514.40,282.98 514.90,284.24 515.40,285.85 515.90,286.90 516.40,287.74 516.90,289.21 517.40,290.26 517.90,291.08 518.40,291.71 518.90,292.91 519.40,293.49 519.90,294.27 520.40,295.15 520.90,295.63 521.40,296.24 521.90,296.38 522.40,297.06 522.90,297.76 523.40,298.06 523.90,299.28 524.40,299.51 524.90,300.18 525.40,300.90 525.90,301.55 526.40,302.59 526.90,303.07 527.40,303.68 527.90,304.23 528.40,304.59 528.90,305.28 529.40,306.11 529.90,306.55 530.40,307.03 530.90,307.10 531.40,307.48 531.90,307.79 532.40,308.47 532.90,308.75 533.40,309.17 533.90,309.55 534.40,309.97 534.90,310.19 535.40,310.81 535.90,310.80 536.40,311.58 536.90,311.71 537.40,311.74 537.90,312.22 538.40,312.66 538.90,312.88 539.40,313.25 539.90,313.37 540.40,313.58 540.90,314.13 541.40,314.05 541.90,314.51 542.40,314.76 542.90,314.83 543.40,314.93 543.90,315.39 544.40,315.27 544.90,315.70 545.40,315.36 545.90,315.75 546.40,316.02 546.90,315.82 547.40,316.46 547.90,316.13 548.40,316.59 548.90,316.47 549.40,317.05 549.90,316.96 550.40,317.22 550.90,317.16 551.40,317.37 551.90,317.48 552.40,317.36 552.90,317.41 553.40,317.88 553.90,317.57 554.40,318.13 554.90,317.80 555.40,317.84 555.90,317.94 556.40,318.45 556.90,318.64 557.40,318.41 557.90,318.65 558.40,318.50 558.90,318.97 559.40,318.92 559.90,318.69 560.40,318.72 560.90,319.18 561.40,318.88 561.90,319.44 562.40,319.20 562.90,319.24 563.40,319.54 563.90,319.46 564.40,319.69 564.90,319.53 565.40,320.07 565.90,319.80 566.40,320.19 566.90,319.86 567.40,320.33 567.90,320.52 568.40,320.25 568.90,320.12 569.40,320.41 569.90,320.65 570.40,320.48 570.90,320.75 571.40,320.56 571.90,320.86 572.40,321.09 572.90,320.99 573.40,321.22 573.90,320.95 574.40,321.46 574.90,321.11 575.40,321.66 575.90,321.78 576.40,321.82 576.90,321.64 577.40,321.57 577.90,321.67 578.40,321.99 578.90,321.90 579.40,322.23 579.90,321.80 580.40,322.10 580.90,322.40 581.40,322.30 581.90,322.34 582.40,322.13 582.90,322.22 583.40,322.37 583.90,322.80 584.40,322.84 584.90,322.53 585.40,323.01 585.90,322.54 586.40,322.94 586.90,323.22 587.40,322.90 587.90,323.32 588.40,323.20 588.90,322.89 589.40,323.12 589.90,323.24 590.40,323.18 590.90,323.53 591.40,323.24 591.90,323.66 592.40,323.42 592.90,323.33 593.40,323.67 593.90,323.45 594.40,323.77 594.90,323.96 595.40,323.90 595.90,323.87 596.40,323.66 596.90,324.00 597.40,323.80 597.90,324.18 598.40,323.92 598.90,324.24 599.40,324.15 599.90,324.21 600.40,324.44 600.90,324.19 601.40,324.25 601.90,324.76 602.40,324.45 602.90,324.81 603.40,324.88 603.90,324.70 604.40,324.55 604.90,324.57 605.40,325.09 605.90,324.69 606.40,324.97 606.90,325.04 607.40,324.84 607.90,325.10 608.40,324.97 608.90,325.24 609.40,325.27 609.90,325.23 610.40,325.17 610.90,325.34 611.40,325.26 611.90,325.25 612.40,325.36 612.90,325.77 613.40,325.59 613.90,325.85 614.40,325.36 614.90,325.95 615.40,325.71 615.90,325.92 616.40,325.81 616.90,325.91 617.40,325.66 617.90,326.00 618.40,325.67 618.90,325.76 619.40,325.65 619.90,325.89 620.40,325.99 620.90,325.88 621.40,326.26 621.90,325.80 622.40,326.12 622.90,325.94 623.40,326.18 623.90,326.32 624.40,326.30 624.90,325.93 625.40,326.07 625.90,326.31 626.40,326.56 626.90,326.02 627.40,326.39 627.90,326.46 628.40,326.56 628.90,326.30 629.40,326.61 629.90,326.43 630.40,326.73 630.90,326.20 631.40,326.79 631.90,326.49 632.40,326.51 632.90,326.35 633.40,326.46 633.90,326.78 634.40,326.77 634.90,326.47 635.40,326.61 635.90,326.51 636.40,326.57 636.90,326.60 637.40,326.69 637.90,327.09 638.40,327.13 638.90,327.02 639.40,326.85 639.90,326.88 640.40,327.07 640.90,327.17 641.40,327.09 641.90,327.04 642.40,326.80 642.90,327.07 643.40,327.22 643.90,327.20 644.40,326.81 644.90,327.20 645.40,326.99 645.90,326.90 646.40,327.40 646.90,327.24 647.40,327.30 647.90,326.95 648.40,327.38 648.90,327.47 649.40,327.46 649.90,327.38 650.40,327.45 650.90,327.45 651.40,327.34 651.90,327.26 652.40,327.51 652.90,327.50 653.40,327.57 653.90,327.24 654.40,327.66 654.90,327.42 655.40,327.68 655.90,327.20 656.40,327.72 656.90,327.63 657.40,327.32 657.90,327.69 658.40,327.34 658.90,327.34 659.40,327.51 659.90,327.39 660.40,327.56 660.90,327.82 661.40,327.70 661.90,327.73 662.40,327.55 662.90,327.80 663.40,327.82 663.90,327.77 664.40,327.94 664.90,327.88 665.40,327.65 665.90,327.47 666.40,327.82 666.90,327.95 667.40,327.66 667.90,327.83 668.40,327.99 668.90,327.98 669.40,327.52 669.90,327.82 670.40,327.55 670.90,327.62 671.40,328.06 671.90,327.84 672.40,327.96 672.90,327.89 673.40,327.83 673.90,327.77 674.40,327.87 674.90,328.18 675.40,328.05 675.90,327.87 676.40,327.76 676.90,327.89 677.40,328.16 677.90,328.02 678.40,328.17 678.90,328.28" fill="none" stroke="#c8404f" stroke-width="1.5" stroke-linejoin="round" opacity="0.55"/>
<path d="M480.57,235.07h1.8l-0.9,1.5zM481.53,235.46h1.8l-0.9,1.5zM482.21,236.15h1.8l-0.9,1.5zM483.14,237.74h1.8l-0.9,1.5zM484.26,237.21h1.8l-0.9,1.5zM485.16,238.26h1.8l-0.9,1.5zM485.90,238.47h1.8l-0.9,1.5zM486.80,239.77h1.8l-0.9,1.5zM487.58,240.32h1.8l-0.9,1.5zM488.46,240.61h1.8l-0.9,1.5zM489.30,240.69h1.8l-0.9,1.5zM490.58,240.71h1.8l-0.9,1.5zM491.42,241.64h1.8l-0.9,1.5zM492.14,241.90h1.8l-0.9,1.5zM493.12,242.27h1.8l-0.9,1.5zM494.01,243.95h1.8l-0.9,1.5zM495.07,243.90h1.8l-0.9,1.5zM495.87,245.28h1.8l-0.9,1.5zM496.75,244.82h1.8l-0.9,1.5zM497.78,246.07h1.8l-0.9,1.5zM498.56,246.77h1.8l-0.9,1.5zM499.35,248.10h1.8l-0.9,1.5zM500.37,249.10h1.8l-0.9,1.5zM501.20,251.06h1.8l-0.9,1.5zM502.29,252.01h1.8l-0.9,1.5zM503.13,253.39h1.8l-0.9,1.5zM503.92,256.21h1.8l-0.9,1.5zM504.90,257.97h1.8l-0.9,1.5zM505.79,260.81h1.8l-0.9,1.5zM506.41,262.96h1.8l-0.9,1.5zM507.35,265.07h1.8l-0.9,1.5zM508.56,268.83h1.8l-0.9,1.5zM509.34,270.40h1.8l-0.9,1.5zM510.02,273.65h1.8l-0.9,1.5zM511.20,275.93h1.8l-0.9,1.5zM511.91,278.77h1.8l-0.9,1.5zM512.82,281.40h1.8l-0.9,1.5zM513.77,283.45h1.8l-0.9,1.5zM514.76,286.24h1.8l-0.9,1.5zM515.67,288.05h1.8l-0.9,1.5zM516.69,289.36h1.8l-0.9,1.5zM517.48,291.50h1.8l-0.9,1.5zM518.16,292.34h1.8l-0.9,1.5zM519.33,293.98h1.8l-0.9,1.5zM520.04,295.37h1.8l-0.9,1.5zM521.01,295.49h1.8l-0.9,1.5zM521.76,297.56h1.8l-0.9,1.5zM522.67,298.46h1.8l-0.9,1.5zM523.52,299.05h1.8l-0.9,1.5zM524.55,300.26h1.8l-0.9,1.5zM525.68,302.43h1.8l-0.9,1.5zM526.32,302.51h1.8l-0.9,1.5zM527.18,304.65h1.8l-0.9,1.5zM528.18,304.75h1.8l-0.9,1.5zM529.00,305.31h1.8l-0.9,1.5zM529.95,306.49h1.8l-0.9,1.5zM530.81,308.03h1.8l-0.9,1.5zM531.96,307.66h1.8l-0.9,1.5zM532.83,308.67h1.8l-0.9,1.5zM533.71,309.58h1.8l-0.9,1.5zM534.36,309.77h1.8l-0.9,1.5zM535.39,311.02h1.8l-0.9,1.5zM536.37,311.36h1.8l-0.9,1.5zM537.11,312.21h1.8l-0.9,1.5zM538.27,312.20h1.8l-0.9,1.5zM538.92,312.91h1.8l-0.9,1.5zM539.80,313.49h1.8l-0.9,1.5zM540.62,314.08h1.8l-0.9,1.5zM541.73,314.52h1.8l-0.9,1.5zM542.78,314.19h1.8l-0.9,1.5zM543.40,314.37h1.8l-0.9,1.5zM544.42,314.40h1.8l-0.9,1.5zM545.37,315.63h1.8l-0.9,1.5zM546.32,315.43h1.8l-0.9,1.5zM547.02,315.27h1.8l-0.9,1.5zM548.19,316.27h1.8l-0.9,1.5zM548.98,316.48h1.8l-0.9,1.5zM549.76,316.90h1.8l-0.9,1.5zM550.80,317.33h1.8l-0.9,1.5zM551.56,316.68h1.8l-0.9,1.5zM552.44,317.51h1.8l-0.9,1.5zM553.55,316.82h1.8l-0.9,1.5zM554.31,317.48h1.8l-0.9,1.5zM555.36,317.86h1.8l-0.9,1.5zM556.04,317.28h1.8l-0.9,1.5zM556.97,317.35h1.8l-0.9,1.5zM558.04,318.11h1.8l-0.9,1.5zM558.83,318.50h1.8l-0.9,1.5zM559.73,318.28h1.8l-0.9,1.5zM560.74,318.25h1.8l-0.9,1.5zM561.64,319.12h1.8l-0.9,1.5zM562.47,318.38h1.8l-0.9,1.5zM563.30,319.38h1.8l-0.9,1.5zM564.36,319.73h1.8l-0.9,1.5zM565.23,319.66h1.8l-0.9,1.5zM566.15,319.68h1.8l-0.9,1.5zM566.98,319.10h1.8l-0.9,1.5zM567.84,320.05h1.8l-0.9,1.5zM568.53,319.60h1.8l-0.9,1.5zM569.73,320.20h1.8l-0.9,1.5zM570.39,319.88h1.8l-0.9,1.5zM571.24,319.95h1.8l-0.9,1.5zM572.49,320.73h1.8l-0.9,1.5zM573.14,321.04h1.8l-0.9,1.5zM573.93,321.03h1.8l-0.9,1.5zM574.93,321.35h1.8l-0.9,1.5zM575.95,320.31h1.8l-0.9,1.5zM576.71,320.63h1.8l-0.9,1.5zM577.68,320.65h1.8l-0.9,1.5zM578.72,321.47h1.8l-0.9,1.5zM579.63,320.87h1.8l-0.9,1.5zM580.29,321.09h1.8l-0.9,1.5zM581.24,321.93h1.8l-0.9,1.5zM582.23,321.63h1.8l-0.9,1.5zM583.22,321.59h1.8l-0.9,1.5zM584.14,321.69h1.8l-0.9,1.5zM584.91,322.64h1.8l-0.9,1.5zM585.91,321.65h1.8l-0.9,1.5zM586.70,321.76h1.8l-0.9,1.5zM587.43,322.41h1.8l-0.9,1.5zM588.59,322.80h1.8l-0.9,1.5zM589.36,322.83h1.8l-0.9,1.5zM590.34,322.83h1.8l-0.9,1.5zM591.35,322.52h1.8l-0.9,1.5zM592.22,323.69h1.8l-0.9,1.5zM592.93,323.74h1.8l-0.9,1.5zM593.73,323.86h1.8l-0.9,1.5zM594.65,323.24h1.8l-0.9,1.5zM595.77,323.30h1.8l-0.9,1.5zM596.58,323.74h1.8l-0.9,1.5zM597.38,323.32h1.8l-0.9,1.5zM598.31,323.49h1.8l-0.9,1.5zM599.39,323.29h1.8l-0.9,1.5zM600.18,323.84h1.8l-0.9,1.5zM601.18,323.48h1.8l-0.9,1.5zM601.91,323.58h1.8l-0.9,1.5zM602.98,324.18h1.8l-0.9,1.5zM603.90,324.86h1.8l-0.9,1.5zM604.87,324.92h1.8l-0.9,1.5zM605.69,324.69h1.8l-0.9,1.5zM606.38,323.86h1.8l-0.9,1.5zM607.55,323.88h1.8l-0.9,1.5zM608.35,324.96h1.8l-0.9,1.5zM609.14,324.40h1.8l-0.9,1.5zM610.15,324.33h1.8l-0.9,1.5zM610.92,325.56h1.8l-0.9,1.5zM611.77,324.31h1.8l-0.9,1.5zM612.96,324.80h1.8l-0.9,1.5zM613.68,325.49h1.8l-0.9,1.5zM614.44,324.56h1.8l-0.9,1.5zM615.61,324.69h1.8l-0.9,1.5zM616.60,325.18h1.8l-0.9,1.5zM617.42,325.84h1.8l-0.9,1.5zM618.33,325.28h1.8l-0.9,1.5zM618.94,324.84h1.8l-0.9,1.5zM620.00,325.49h1.8l-0.9,1.5zM620.80,325.04h1.8l-0.9,1.5zM621.96,324.82h1.8l-0.9,1.5zM622.88,325.82h1.8l-0.9,1.5zM623.57,326.25h1.8l-0.9,1.5zM624.45,325.95h1.8l-0.9,1.5zM625.54,326.10h1.8l-0.9,1.5zM626.11,325.20h1.8l-0.9,1.5zM627.23,325.36h1.8l-0.9,1.5zM627.90,325.63h1.8l-0.9,1.5zM629.11,326.31h1.8l-0.9,1.5zM629.72,325.84h1.8l-0.9,1.5zM630.81,326.48h1.8l-0.9,1.5zM631.63,325.38h1.8l-0.9,1.5zM632.75,326.19h1.8l-0.9,1.5zM633.56,326.04h1.8l-0.9,1.5zM634.30,325.69h1.8l-0.9,1.5zM635.25,326.71h1.8l-0.9,1.5zM636.24,325.62h1.8l-0.9,1.5zM636.98,325.69h1.8l-0.9,1.5zM638.03,326.19h1.8l-0.9,1.5zM638.98,326.47h1.8l-0.9,1.5zM639.63,326.23h1.8l-0.9,1.5zM640.52,326.66h1.8l-0.9,1.5zM641.56,326.34h1.8l-0.9,1.5zM642.59,326.66h1.8l-0.9,1.5zM643.46,326.08h1.8l-0.9,1.5zM644.29,326.75h1.8l-0.9,1.5zM645.36,326.01h1.8l-0.9,1.5zM645.93,326.68h1.8l-0.9,1.5zM647.19,326.20h1.8l-0.9,1.5zM647.86,326.22h1.8l-0.9,1.5zM648.93,327.03h1.8l-0.9,1.5zM649.80,326.85h1.8l-0.9,1.5zM650.44,326.04h1.8l-0.9,1.5zM651.62,327.38h1.8l-0.9,1.5zM652.22,326.10h1.8l-0.9,1.5zM653.47,326.41h1.8l-0.9,1.5zM654.27,326.41h1.8l-0.9,1.5zM655.16,327.43h1.8l-0.9,1.5zM655.91,327.45h1.8l-0.9,1.5zM656.71,326.40h1.8l-0.9,1.5zM657.64,327.27h1.8l-0.9,1.5zM658.78,327.60h1.8l-0.9,1.5zM659.72,326.53h1.8l-0.9,1.5zM660.50,326.52h1.8l-0.9,1.5zM661.51,326.46h1.8l-0.9,1.5zM662.47,327.59h1.8l-0.9,1.5zM663.34,326.37h1.8l-0.9,1.5zM664.23,327.17h1.8l-0.9,1.5zM665.05,327.12h1.8l-0.9,1.5zM666.02,327.27h1.8l-0.9,1.5zM666.62,326.58h1.8l-0.9,1.5zM667.62,327.26h1.8l-0.9,1.5zM668.40,327.07h1.8l-0.9,1.5zM669.31,327.59h1.8l-0.9,1.5zM670.52,327.73h1.8l-0.9,1.5zM671.15,327.23h1.8l-0.9,1.5zM672.08,327.53h1.8l-0.9,1.5zM672.94,327.24h1.8l-0.9,1.5zM674.02,328.04h1.8l-0.9,1.5zM674.74,327.19h1.8l-0.9,1.5zM675.94,327.74h1.8l-0.9,1.5zM676.54,327.94h1.8l-0.9,1.5zM677.52,327.29h1.8l-0.9,1.5z" fill="#b8283e"/>
<rect x="480.96" y="272.68" width="1.3" height="1.3" fill="#3c86c6"/>
<rect x="482.01" y="275.97" width="1.3" height="1.3" fill="#3c86c6"/>
<rect x="483.26" y="274.53" width="1.3" height="1.3" fill="#3c86c6"/>
<rect x="483.99" y="275.78" width="1.3" height="1.3" fill="#3c86c6"/>
<rect x="485.52" y="277.74" width="1.3" height="1.3" fill="#3c86c6"/>
<rect x="486.56" y="277.86" width="1.3" height="1.3" fill="#3c86c6"/>
<rect x="487.64" y="278.88" width="1.3" height="1.3" fill="#3c86c6"/>
<rect x="488.94" y="280.57" width="1.3" height="1.3" fill="#3c86c6"/>
<rect x="490.14" y="281.41" width="1.3" height="1.3" fill="#3c86c6"/>
<rect x="491.40" y="282.75" width="1.3" height="1.3" fill="#3c86c6"/>
<rect x="492.43" y="281.88" width="1.3" height="1.3" fill="#3c86c6"/>
<rect x="493.56" y="285.14" width="1.3" height="1.3" fill="#3c86c6"/>
<rect x="494.56" y="286.06" width="1.3" height="1.3" fill="#3c86c6"/>
<rect x="495.56" y="286.70" width="1.3" height="1.3" fill="#3c86c6"/>
<rect x="496.87" y="286.32" width="1.3" height="1.3" fill="#3c86c6"/>
<rect x="497.90" y="285.56" width="1.3" height="1.3" fill="#3c86c6"/>
<rect x="499.11" y="285.95" width="1.3" height="1.3" fill="#3c86c6"/>
<rect x="500.11" y="286.53" width="1.3" height="1.3" fill="#3c86c6"/>
<rect x="501.79" y="287.22" width="1.3" height="1.3" fill="#3c86c6"/>
<rect x="502.91" y="287.38" width="1.3" height="1.3" fill="#3c86c6"/>
<rect x="504.00" y="287.53" width="1.3" height="1.3" fill="#3c86c6"/>
<rect x="505.10" y="284.79" width="1.3" height="1.3" fill="#3c86c6"/>
<rect x="505.95" y="283.71" width="1.3" height="1.3" fill="#3c86c6"/>
<rect x="506.96" y="280.71" width="1.3" height="1.3" fill="#3c86c6"/>
<rect x="508.63" y="278.78" width="1.3" height="1.3" fill="#3c86c6"/>
<rect x="510.60" y="267.28" width="1.3" height="1.3" fill="#3c86c6"/>
<rect x="513.16" y="259.02" width="1.3" height="1.3" fill="#3c86c6"/>
<rect x="515.48" y="253.82" width="1.3" height="1.3" fill="#3c86c6"/>
<rect x="517.36" y="251.51" width="1.3" height="1.3" fill="#3c86c6"/>
<rect x="519.79" y="244.30" width="1.3" height="1.3" fill="#3c86c6"/>
<rect x="522.12" y="232.49" width="1.3" height="1.3" fill="#3c86c6"/>
<rect x="523.63" y="228.60" width="1.3" height="1.3" fill="#3c86c6"/>
<rect x="524.52" y="228.45" width="1.3" height="1.3" fill="#3c86c6"/>
<rect x="525.67" y="228.78" width="1.3" height="1.3" fill="#3c86c6"/>
<rect x="526.74" y="228.68" width="1.3" height="1.3" fill="#3c86c6"/>
<rect x="528.06" y="228.81" width="1.3" height="1.3" fill="#3c86c6"/>
<rect x="528.85" y="226.89" width="1.3" height="1.3" fill="#3c86c6"/>
<rect x="530.12" y="228.81" width="1.3" height="1.3" fill="#3c86c6"/>
<rect x="531.11" y="227.33" width="1.3" height="1.3" fill="#3c86c6"/>
<rect x="532.68" y="229.52" width="1.3" height="1.3" fill="#3c86c6"/>
<rect x="533.51" y="228.45" width="1.3" height="1.3" fill="#3c86c6"/>
<rect x="534.96" y="229.53" width="1.3" height="1.3" fill="#3c86c6"/>
<rect x="536.15" y="230.15" width="1.3" height="1.3" fill="#3c86c6"/>
<rect x="537.00" y="229.34" width="1.3" height="1.3" fill="#3c86c6"/>
<rect x="538.02" y="230.95" width="1.3" height="1.3" fill="#3c86c6"/>
<rect x="539.28" y="230.29" width="1.3" height="1.3" fill="#3c86c6"/>
<rect x="540.88" y="231.75" width="1.3" height="1.3" fill="#3c86c6"/>
<rect x="541.80" y="232.25" width="1.3" height="1.3" fill="#3c86c6"/>
<rect x="542.96" y="232.82" width="1.3" height="1.3" fill="#3c86c6"/>
<rect x="543.93" y="231.66" width="1.3" height="1.3" fill="#3c86c6"/>
<rect x="544.94" y="232.03" width="1.3" height="1.3" fill="#3c86c6"/>
<rect x="546.27" y="232.89" width="1.3" height="1.3" fill="#3c86c6"/>
<rect x="547.27" y="234.37" width="1.3" height="1.3" fill="#3c86c6"/>
<rect x="548.93" y="235.47" width="1.3" height="1.3" fill="#3c86c6"/>
<rect x="549.66" y="236.29" width="1.3" height="1.3" fill="#3c86c6"/>
<rect x="550.76" y="235.15" width="1.3" height="1.3" fill="#3c86c6"/>
<rect x="551.98" y="236.52" width="1.3" height="1.3" fill="#3c86c6"/>
<rect x="553.36" y="237.16" width="1.3" height="1.3" fill="#3c86c6"/>
<rect x="554.54" y="236.82" width="1.3" height="1.3" fill="#3c86c6"/>
<rect x="555.81" y="238.02" width="1.3" height="1.3" fill="#3c86c6"/>
<rect x="556.90" y="237.73" width="1.3" height="1.3" fill="#3c86c6"/>
<rect x="558.05" y="238.72" width="1.3" height="1.3" fill="#3c86c6"/>
<rect x="559.21" y="240.63" width="1.3" height="1.3" fill="#3c86c6"/>
<rect x="560.25" y="239.62" width="1.3" height="1.3" fill="#3c86c6"/>
<rect x="561.01" y="239.67" width="1.3" height="1.3" fill="#3c86c6"/>
<rect x="562.69" y="239.80" width="1.3" height="1.3" fill="#3c86c6"/>
<rect x="563.70" y="241.11" width="1.3" height="1.3" fill="#3c86c6"/>
<rect x="564.85" y="240.23" width="1.3" height="1.3" fill="#3c86c6"/>
<rect x="565.69" y="240.19" width="1.3" height="1.3" fill="#3c86c6"/>
<rect x="567.34" y="241.12" width="1.3" height="1.3" fill="#3c86c6"/>
<rect x="568.29" y="241.82" width="1.3" height="1.3" fill="#3c86c6"/>
<rect x="569.18" y="240.76" width="1.3" height="1.3" fill="#3c86c6"/>
<rect x="570.21" y="243.10" width="1.3" height="1.3" fill="#3c86c6"/>
<rect x="571.43" y="243.71" width="1.3" height="1.3" fill="#3c86c6"/>
<rect x="572.72" y="243.43" width="1.3" height="1.3" fill="#3c86c6"/>
<rect x="573.73" y="243.95" width="1.3" height="1.3" fill="#3c86c6"/>
<rect x="574.95" y="243.22" width="1.3" height="1.3" fill="#3c86c6"/>
<rect x="576.26" y="242.93" width="1.3" height="1.3" fill="#3c86c6"/>
<rect x="577.25" y="245.07" width="1.3" height="1.3" fill="#3c86c6"/>
<rect x="578.42" y="244.34" width="1.3" height="1.3" fill="#3c86c6"/>
<rect x="579.86" y="244.27" width="1.3" height="1.3" fill="#3c86c6"/>
<rect x="580.67" y="244.61" width="1.3" height="1.3" fill="#3c86c6"/>
<rect x="581.93" y="245.36" width="1.3" height="1.3" fill="#3c86c6"/>
<rect x="583.23" y="246.01" width="1.3" height="1.3" fill="#3c86c6"/>
<rect x="584.52" y="245.29" width="1.3" height="1.3" fill="#3c86c6"/>
<rect x="585.55" y="247.69" width="1.3" height="1.3" fill="#3c86c6"/>
<rect x="586.44" y="245.95" width="1.3" height="1.3" fill="#3c86c6"/>
<rect x="587.71" y="246.51" width="1.3" height="1.3" fill="#3c86c6"/>
<rect x="588.88" y="248.36" width="1.3" height="1.3" fill="#3c86c6"/>
<rect x="589.81" y="247.07" width="1.3" height="1.3" fill="#3c86c6"/>
<rect x="591.19" y="247.42" width="1.3" height="1.3" fill="#3c86c6"/>
<rect x="592.19" y="248.23" width="1.3" height="1.3" fill="#3c86c6"/>
<rect x="593.27" y="247.27" width="1.3" height="1.3" fill="#3c86c6"/>
<rect x="594.57" y="248.21" width="1.3" height="1.3" fill="#3c86c6"/>
<rect x="596.06" y="248.25" width="1.3" height="1.3" fill="#3c86c6"/>
<rect x="596.69" y="247.15" width="1.3" height="1.3" fill="#3c86c6"/>
<rect x="598.25" y="247.78" width="1.3" height="1.3" fill="#3c86c6"/>
<rect x="599.47" y="248.63" width="1.3" height="1.3" fill="#3c86c6"/>
<rect x="600.61" y="246.21" width="1.3" height="1.3" fill="#3c86c6"/>
<rect x="601.82" y="247.01" width="1.3" height="1.3" fill="#3c86c6"/>
<rect x="602.54" y="245.78" width="1.3" height="1.3" fill="#3c86c6"/>
<rect x="604.07" y="245.59" width="1.3" height="1.3" fill="#3c86c6"/>
<rect x="604.75" y="245.49" width="1.3" height="1.3" fill="#3c86c6"/>
<rect x="606.40" y="245.88" width="1.3" height="1.3" fill="#3c86c6"/>
<rect x="607.44" y="244.92" width="1.3" height="1.3" fill="#3c86c6"/>
<rect x="608.42" y="245.80" width="1.3" height="1.3" fill="#3c86c6"/>
<rect x="609.42" y="247.17" width="1.3" height="1.3" fill="#3c86c6"/>
<rect x="610.67" y="246.41" width="1.3" height="1.3" fill="#3c86c6"/>
<rect x="612.19" y="248.15" width="1.3" height="1.3" fill="#3c86c6"/>
<rect x="612.86" y="247.80" width="1.3" height="1.3" fill="#3c86c6"/>
<rect x="614.29" y="250.01" width="1.3" height="1.3" fill="#3c86c6"/>
<rect x="615.06" y="250.78" width="1.3" height="1.3" fill="#3c86c6"/>
<rect x="616.64" y="251.86" width="1.3" height="1.3" fill="#3c86c6"/>
<rect x="617.49" y="252.73" width="1.3" height="1.3" fill="#3c86c6"/>
<rect x="618.86" y="254.13" width="1.3" height="1.3" fill="#3c86c6"/>
<rect x="619.74" y="255.54" width="1.3" height="1.3" fill="#3c86c6"/>
<rect x="621.37" y="256.40" width="1.3" height="1.3" fill="#3c86c6"/>
<rect x="622.46" y="256.42" width="1.3" height="1.3" fill="#3c86c6"/>
<rect x="623.64" y="256.88" width="1.3" height="1.3" fill="#3c86c6"/>
<rect x="624.39" y="258.83" width="1.3" height="1.3" fill="#3c86c6"/>
<rect x="625.94" y="258.30" width="1.3" height="1.3" fill="#3c86c6"/>
<rect x="626.68" y="258.93" width="1.3" height="1.3" fill="#3c86c6"/>
<rect x="627.96" y="259.92" width="1.3" height="1.3" fill="#3c86c6"/>
<rect x="628.96" y="262.18" width="1.3" height="1.3" fill="#3c86c6"/>
<rect x="630.35" y="263.34" width="1.3" height="1.3" fill="#3c86c6"/>
<rect x="631.39" y="263.32" width="1.3" height="1.3" fill="#3c86c6"/>
<rect x="632.31" y="264.68" width="1.3" height="1.3" fill="#3c86c6"/>
<rect x="633.59" y="264.11" width="1.3" height="1.3" fill="#3c86c6"/>
<rect x="634.91" y="265.97" width="1.3" height="1.3" fill="#3c86c6"/>
<rect x="636.05" y="266.70" width="1.3" height="1.3" fill="#3c86c6"/>
<rect x="637.27" y="265.30" width="1.3" height="1.3" fill="#3c86c6"/>
<rect x="638.55" y="265.88" width="1.3" height="1.3" fill="#3c86c6"/>
<rect x="639.80" y="267.17" width="1.3" height="1.3" fill="#3c86c6"/>
<rect x="640.49" y="269.12" width="1.3" height="1.3" fill="#3c86c6"/>
<rect x="641.69" y="268.32" width="1.3" height="1.3" fill="#3c86c6"/>
<rect x="642.86" y="269.66" width="1.3" height="1.3" fill="#3c86c6"/>
<rect x="643.81" y="269.56" width="1.3" height="1.3" fill="#3c86c6"/>
<rect x="645.05" y="271.41" width="1.3" height="1.3" fill="#3c86c6"/>
<rect x="646.10" y="271.51" width="1.3" height="1.3" fill="#3c86c6"/>
<rect x="647.40" y="271.78" width="1.3" height="1.3" fill="#3c86c6"/>
<rect x="648.74" y="273.13" width="1.3" height="1.3" fill="#3c86c6"/>
<rect x="649.63" y="272.60" width="1.3" height="1.3" fill="#3c86c6"/>
<rect x="650.77" y="275.19" width="1.3" height="1.3" fill="#3c86c6"/>
<rect x="651.94" y="273.77" width="1.3" height="1.3" fill="#3c86c6"/>
<rect x="653.31" y="275.64" width="1.3" height="1.3" fill="#3c86c6"/>
<rect x="654.68" y="274.97" width="1.3" height="1.3" fill="#3c86c6"/>
<rect x="655.44" y="275.91" width="1.3" height="1.3" fill="#3c86c6"/>
<rect x="656.80" y="277.26" width="1.3" height="1.3" fill="#3c86c6"/>
<rect x="657.85" y="278.93" width="1.3" height="1.3" fill="#3c86c6"/>
<rect x="659.15" y="279.33" width="1.3" height="1.3" fill="#3c86c6"/>
<rect x="660.47" y="278.21" width="1.3" height="1.3" fill="#3c86c6"/>
<rect x="661.62" y="278.95" width="1.3" height="1.3" fill="#3c86c6"/>
<rect x="662.23" y="280.62" width="1.3" height="1.3" fill="#3c86c6"/>
<rect x="663.41" y="278.62" width="1.3" height="1.3" fill="#3c86c6"/>
<rect x="664.67" y="279.67" width="1.3" height="1.3" fill="#3c86c6"/>
<rect x="666.23" y="281.53" width="1.3" height="1.3" fill="#3c86c6"/>
<rect x="667.05" y="280.98" width="1.3" height="1.3" fill="#3c86c6"/>
<rect x="668.46" y="282.02" width="1.3" height="1.3" fill="#3c86c6"/>
<rect x="669.49" y="281.58" width="1.3" height="1.3" fill="#3c86c6"/>
<rect x="670.32" y="281.19" width="1.3" height="1.3" fill="#3c86c6"/>
<rect x="671.79" y="282.39" width="1.3" height="1.3" fill="#3c86c6"/>
<rect x="673.03" y="283.51" width="1.3" height="1.3" fill="#3c86c6"/>
<rect x="674.28" y="281.99" width="1.3" height="1.3" fill="#3c86c6"/>
<rect x="674.90" y="284.15" width="1.3" height="1.3" fill="#3c86c6"/>
<rect x="676.34" y="282.64" width="1.3" height="1.3" fill="#3c86c6"/>
<rect x="481.2" y="185.6" width="198.90000000000003" height="146.79999999999998" fill="none" stroke="#1a1a1a" stroke-width="1.1"/>
<line x1="481.20" y1="186.20" x2="481.20" y2="331.80" stroke="#8c8c8c" stroke-width="1.25" />
<circle cx="591.4" cy="204.1" r="2.1" fill="#3c86c6"/>
<text x="601.44" y="207.85" font-size="10.34" fill="#111" stroke="#111" stroke-width="0.3" font-weight="bold" textLength="64.72" lengthAdjust="spacingAndGlyphs" >LC-semi-IPN</text>
<path d="M589.0,218.3 L593.8,218.3 L591.4,222.2 Z" fill="#c4344c"/>
<text x="601.44" y="223.35" font-size="10.86" fill="#111" stroke="#111" stroke-width="0.3" font-weight="bold" textLength="22.31" lengthAdjust="spacingAndGlyphs" >LCN</text>
<text x="287.45" y="199.85" font-size="9.14" fill="#111" stroke="#111" stroke-width="0.3" font-weight="bold" textLength="22.21" lengthAdjust="spacingAndGlyphs" >LCN</text>
<text x="287.44" y="212.55" font-size="9.24" fill="#111" stroke="#111" stroke-width="0.3" font-weight="bold" textLength="65.03" lengthAdjust="spacingAndGlyphs" >LC-semi-IPN</text>
<text x="287.72" y="225.55" font-size="9.29" fill="#111" stroke="#111" stroke-width="0.3" font-weight="bold" textLength="31.20" lengthAdjust="spacingAndGlyphs" >c-LCP</text>
<path d="M546.4,294.7 L552.8,294.7 L552.8,284.6 L556.2,284.6 L549.6,273.2 L543.0,284.6 L546.4,284.6 Z" fill="#fde0cf" stroke="#e4603e" stroke-width="1.1"/>
<text x="560.15" y="282.45" font-size="10.07" fill="#e4603e" stroke="#e4603e" stroke-width="0.3" font-weight="bold" textLength="51.36" lengthAdjust="spacingAndGlyphs" >tan <tspan font-weight="normal">δ</tspan> &gt; 0.3</text>
</svg></body></html>
